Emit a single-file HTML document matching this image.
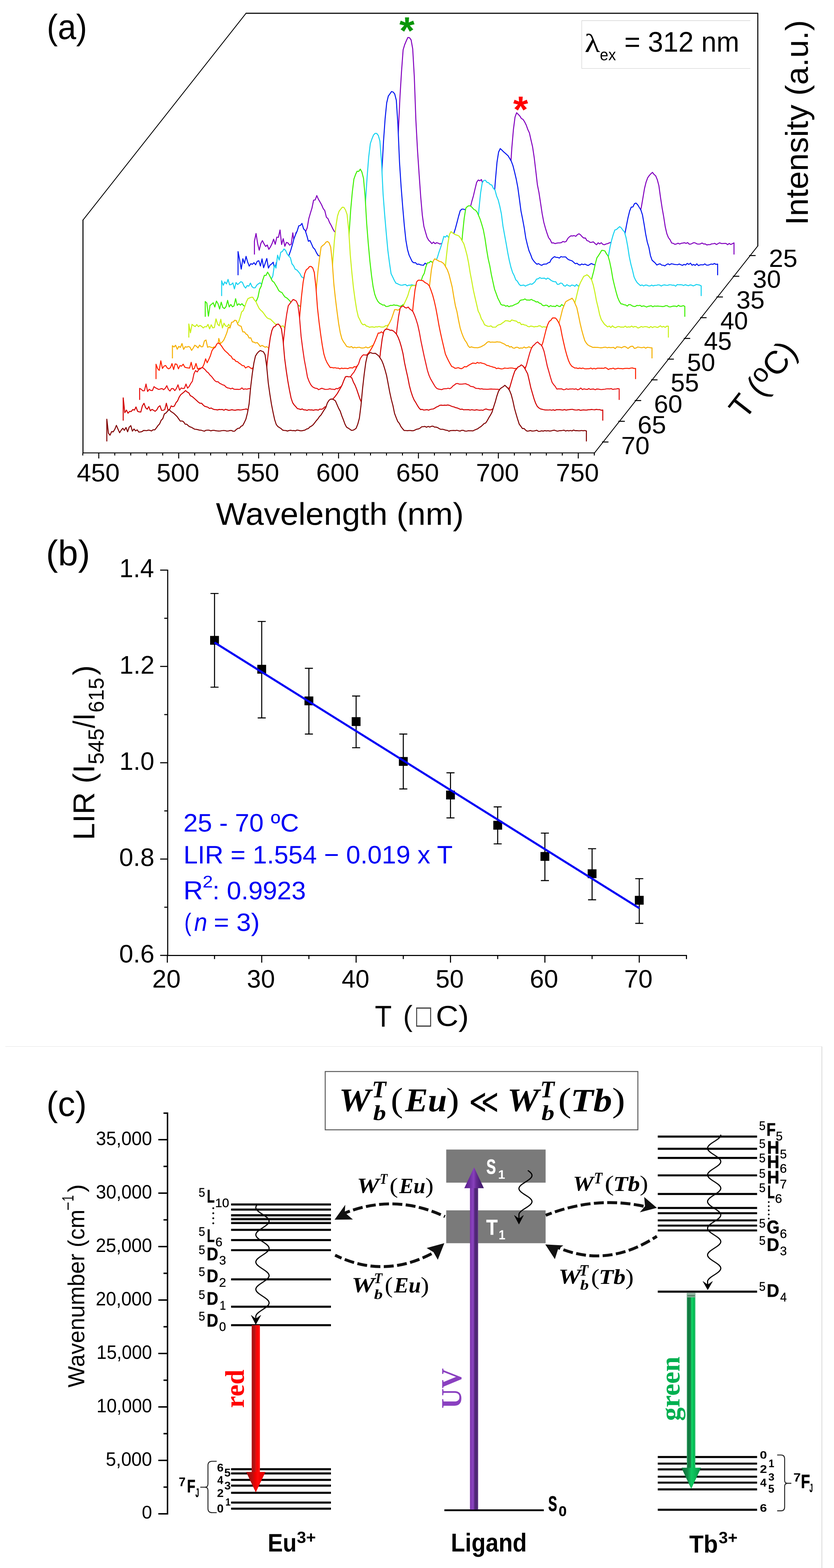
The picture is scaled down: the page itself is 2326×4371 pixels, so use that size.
<!DOCTYPE html>
<html lang="en"><head><meta charset="utf-8"><title>Figure</title>
<style>
html,body{margin:0;padding:0;background:#fff;overflow:hidden;}
body{width:2326px;height:4371px;overflow:hidden;}
svg{display:block;}
text{white-space:pre;text-rendering:geometricPrecision;}
</style></head><body>
<svg width="2326" height="4371" viewBox="0 0 2326 4371">
<rect width="2326" height="4371" fill="#fff"/>
<g id="pa" fill="none" stroke-width="2.75" stroke-linejoin="round">
<path d="M231.4 1263.5V612.6M685 37H2113.5V686.2" stroke="#000" stroke-width="2.8"/>
<path d="M231.4 613.5L686 37.3M2113.5 685.5L1658.5 1262" stroke="#000" stroke-width="2.3"/>
<path d="M230 1262.5H1659.7" stroke="#000" stroke-width="2.7"/>
<path d="M230.9 1262.3v7.5M275.5 1262.3v15.7M320.1 1262.3v7.5M364.7 1262.3v7.5M409.2 1262.3v7.5M453.8 1262.3v7.5M498.4 1262.3v15.7M543 1262.3v7.5M587.5 1262.3v7.5M632.1 1262.3v7.5M676.7 1262.3v7.5M721.3 1262.3v15.7M765.8 1262.3v7.5M810.4 1262.3v7.5M855 1262.3v7.5M899.6 1262.3v7.5M944.2 1262.3v15.7M988.7 1262.3v7.5M1033.3 1262.3v7.5M1077.9 1262.3v7.5M1122.5 1262.3v7.5M1167 1262.3v15.7M1211.6 1262.3v7.5M1256.2 1262.3v7.5M1300.8 1262.3v7.5M1345.3 1262.3v7.5M1389.9 1262.3v15.7M1434.5 1262.3v7.5M1479.1 1262.3v7.5M1523.7 1262.3v7.5M1568.2 1262.3v7.5M1612.8 1262.3v15.7M1657.4 1262.3v7.5" stroke="#000" stroke-width="2.7"/>
<path d="M1679 1232.1h18M1724.6 1174.3h18M1770.2 1116.6h18M1815.8 1058.8h18M1861.4 1001.1h18M1907 943.3h18M1952.6 885.6h18M1998.2 827.8h18M2043.8 770.1h18M2089.4 712.3h18" stroke="#000" stroke-width="2.7"/>
<polygon points="709.6,709.4 709.6,672.4 714.1,650.9 718.6,679.2 723,697.4 727.5,678.6 731.9,670.8 736.4,679.7 740.9,687.1 745.3,682.9 749.8,695.1 754.2,688.3 758.7,679.2 763.1,666.7 767.6,681 772.1,661 776.5,661.6 781,641.1 785.4,681.7 789.9,665.4 794.4,686.5 798.8,675.7 803.3,677.4 807.7,683.4 812.2,680.7 816.6,649.1 821.1,679.7 825.6,648.2 830,679.4 834.5,679.8 838.9,678.6 843.4,668 847.9,663.1 852.3,646.5 856.8,635.1 861.2,609.7 865.7,594.2 870.1,579.9 874.6,558 879.1,557.4 883.5,545.2 888,555.5 892.4,562.8 896.9,570.9 901.4,581.2 905.8,587.1 910.3,605.5 914.7,609.5 919.2,620.5 923.6,628.1 928.1,637.7 932.6,645.4 937,648.2 941.5,652.3 945.9,654.2 950.4,666.1 954.9,673.5 959.3,678.4 963.8,675.5 968.2,680.8 972.7,676.8 977.1,682.1 981.6,675.9 986.1,679.9 990.5,681.7 995,678.9 999.4,679.3 1003.9,679.8 1008.4,680.6 1012.8,676.8 1017.3,674.8 1021.7,681.3 1026.2,681.1 1030.6,678.2 1035.1,678.6 1039.6,678.4 1044,675.4 1048.5,680.1 1052.9,678 1057.4,675.1 1061.9,677.7 1066.3,680.5 1070.8,672.1 1075.2,669.9 1079.7,661.2 1084.1,653.2 1088.6,643.7 1093.1,623.8 1097.5,594.6 1102,556.7 1106.4,480.1 1110.9,368.7 1115.4,271.7 1119.8,199.7 1124.3,138.9 1128.7,124.4 1133.2,113.7 1137.6,104.4 1142.1,105.1 1146.6,111.4 1151,135.9 1155.5,214.5 1159.9,335.5 1164.4,418.8 1168.9,485.7 1173.3,548 1177.8,599.5 1182.2,631 1186.7,647.1 1191.1,661.9 1195.6,669.8 1200.1,674 1204.5,679.1 1209,674.7 1213.4,679.3 1217.9,676.5 1222.4,678 1226.8,680.2 1231.3,678.8 1235.7,680.9 1240.2,678.8 1244.6,682.2 1249.1,679.8 1253.6,680.1 1258,678.5 1262.5,675.9 1266.9,673.3 1271.4,666.6 1275.9,662.2 1280.3,653.4 1284.8,645.5 1289.2,635.3 1293.7,624.7 1298.1,611.5 1302.6,602.9 1307.1,591.5 1311.5,579.1 1316,561 1320.4,545.8 1324.9,526.5 1329.4,508.3 1333.8,501.8 1338.3,503.9 1342.7,500.5 1347.2,514.8 1351.6,534.7 1356.1,550.3 1360.6,572.6 1365,592.6 1369.5,618.7 1373.9,638.3 1378.4,656.4 1382.9,665.9 1387.3,671.5 1391.8,677 1396.2,679.2 1400.7,673.9 1405.1,668.9 1409.6,648 1414.1,619 1418.5,564.6 1423,480.7 1427.4,413.2 1431.9,361 1436.4,326.4 1440.8,314.3 1445.3,318.8 1449.7,323.2 1454.2,330.4 1458.6,332.8 1463.1,339.6 1467.6,348.6 1472,360.8 1476.5,370.5 1480.9,390.1 1485.4,409.5 1489.9,439.4 1494.3,476.4 1498.8,515.3 1503.2,537 1507.7,566.6 1512.1,595.8 1516.6,619.5 1521.1,635.8 1525.5,649.8 1530,662.5 1534.4,668.2 1538.9,677.4 1543.4,676.9 1547.8,679.1 1552.3,677.9 1556.7,677.1 1561.2,677.2 1565.6,676.4 1570.1,673 1574.6,674.7 1579,673 1583.5,664.9 1587.9,660.4 1592.4,657.4 1596.9,657.8 1601.3,656.6 1605.8,658.9 1610.2,654.2 1614.7,651.6 1619.1,654.7 1623.6,659.9 1628.1,663.6 1632.5,663.3 1637,670.7 1641.4,672 1645.9,675.8 1650.4,675.3 1654.8,674.2 1659.3,678.6 1663.7,682.3 1668.2,676.8 1672.6,679.9 1677.1,676.6 1681.6,681.4 1686,682.2 1690.5,680 1694.9,679.1 1699.4,676.9 1703.9,675.9 1708.3,677.7 1712.8,679.2 1717.2,677.1 1721.7,679.5 1726.1,680.7 1730.6,679.5 1735.1,677.6 1739.5,675.3 1744,671.7 1748.4,669.3 1752.9,660.7 1757.4,654 1761.8,649.4 1766.3,644.2 1770.7,632.5 1775.2,621.8 1779.6,614 1784.1,596.2 1788.6,577.7 1793,552.2 1797.5,525.4 1801.9,507.7 1806.4,495.5 1810.9,489.1 1815.3,484.4 1819.8,480.5 1824.2,486.3 1828.7,490.3 1833.1,500.7 1837.6,517.5 1842.1,550.2 1846.5,578.9 1851,604.3 1855.4,632.6 1859.9,651.7 1864.3,662.5 1868.8,668.3 1873.3,677.5 1877.7,678.4 1882.2,681.2 1886.6,680 1891.1,678 1895.6,680.3 1900,678.2 1904.5,677.7 1908.9,676.6 1913.4,678.5 1917.8,676.2 1922.3,680.7 1926.8,680.4 1931.2,678.1 1935.7,676.3 1940.1,677.8 1944.6,680.2 1949.1,680.5 1953.5,679.8 1958,677.5 1962.4,680.1 1966.9,679.8 1971.3,682.8 1975.8,681.8 1980.3,682 1984.7,679.8 1989.2,679.5 1993.6,678.3 1998.1,681.7 2002.6,679.1 2007,676.8 2011.5,678.8 2015.9,678.8 2020.4,678.6 2024.8,678.5 2029.3,682.1 2033.8,678.6 2038.2,681.6 2042.7,679.3 2047.1,677.1 2047.1,709.4" fill="#fff" stroke="none"/>
<polyline points="709.6,709.4 709.6,672.4 714.1,650.9 718.6,679.2 723,697.4 727.5,678.6 731.9,670.8 736.4,679.7 740.9,687.1 745.3,682.9 749.8,695.1 754.2,688.3 758.7,679.2 763.1,666.7 767.6,681 772.1,661 776.5,661.6 781,641.1 785.4,681.7 789.9,665.4 794.4,686.5 798.8,675.7 803.3,677.4 807.7,683.4 812.2,680.7 816.6,649.1 821.1,679.7 825.6,648.2 830,679.4 834.5,679.8 838.9,678.6 843.4,668 847.9,663.1 852.3,646.5 856.8,635.1 861.2,609.7 865.7,594.2 870.1,579.9 874.6,558 879.1,557.4 883.5,545.2 888,555.5 892.4,562.8 896.9,570.9 901.4,581.2 905.8,587.1 910.3,605.5 914.7,609.5 919.2,620.5 923.6,628.1 928.1,637.7 932.6,645.4 937,648.2 941.5,652.3 945.9,654.2 950.4,666.1 954.9,673.5 959.3,678.4 963.8,675.5 968.2,680.8 972.7,676.8 977.1,682.1 981.6,675.9 986.1,679.9 990.5,681.7 995,678.9 999.4,679.3 1003.9,679.8 1008.4,680.6 1012.8,676.8 1017.3,674.8 1021.7,681.3 1026.2,681.1 1030.6,678.2 1035.1,678.6 1039.6,678.4 1044,675.4 1048.5,680.1 1052.9,678 1057.4,675.1 1061.9,677.7 1066.3,680.5 1070.8,672.1 1075.2,669.9 1079.7,661.2 1084.1,653.2 1088.6,643.7 1093.1,623.8 1097.5,594.6 1102,556.7 1106.4,480.1 1110.9,368.7 1115.4,271.7 1119.8,199.7 1124.3,138.9 1128.7,124.4 1133.2,113.7 1137.6,104.4 1142.1,105.1 1146.6,111.4 1151,135.9 1155.5,214.5 1159.9,335.5 1164.4,418.8 1168.9,485.7 1173.3,548 1177.8,599.5 1182.2,631 1186.7,647.1 1191.1,661.9 1195.6,669.8 1200.1,674 1204.5,679.1 1209,674.7 1213.4,679.3 1217.9,676.5 1222.4,678 1226.8,680.2 1231.3,678.8 1235.7,680.9 1240.2,678.8 1244.6,682.2 1249.1,679.8 1253.6,680.1 1258,678.5 1262.5,675.9 1266.9,673.3 1271.4,666.6 1275.9,662.2 1280.3,653.4 1284.8,645.5 1289.2,635.3 1293.7,624.7 1298.1,611.5 1302.6,602.9 1307.1,591.5 1311.5,579.1 1316,561 1320.4,545.8 1324.9,526.5 1329.4,508.3 1333.8,501.8 1338.3,503.9 1342.7,500.5 1347.2,514.8 1351.6,534.7 1356.1,550.3 1360.6,572.6 1365,592.6 1369.5,618.7 1373.9,638.3 1378.4,656.4 1382.9,665.9 1387.3,671.5 1391.8,677 1396.2,679.2 1400.7,673.9 1405.1,668.9 1409.6,648 1414.1,619 1418.5,564.6 1423,480.7 1427.4,413.2 1431.9,361 1436.4,326.4 1440.8,314.3 1445.3,318.8 1449.7,323.2 1454.2,330.4 1458.6,332.8 1463.1,339.6 1467.6,348.6 1472,360.8 1476.5,370.5 1480.9,390.1 1485.4,409.5 1489.9,439.4 1494.3,476.4 1498.8,515.3 1503.2,537 1507.7,566.6 1512.1,595.8 1516.6,619.5 1521.1,635.8 1525.5,649.8 1530,662.5 1534.4,668.2 1538.9,677.4 1543.4,676.9 1547.8,679.1 1552.3,677.9 1556.7,677.1 1561.2,677.2 1565.6,676.4 1570.1,673 1574.6,674.7 1579,673 1583.5,664.9 1587.9,660.4 1592.4,657.4 1596.9,657.8 1601.3,656.6 1605.8,658.9 1610.2,654.2 1614.7,651.6 1619.1,654.7 1623.6,659.9 1628.1,663.6 1632.5,663.3 1637,670.7 1641.4,672 1645.9,675.8 1650.4,675.3 1654.8,674.2 1659.3,678.6 1663.7,682.3 1668.2,676.8 1672.6,679.9 1677.1,676.6 1681.6,681.4 1686,682.2 1690.5,680 1694.9,679.1 1699.4,676.9 1703.9,675.9 1708.3,677.7 1712.8,679.2 1717.2,677.1 1721.7,679.5 1726.1,680.7 1730.6,679.5 1735.1,677.6 1739.5,675.3 1744,671.7 1748.4,669.3 1752.9,660.7 1757.4,654 1761.8,649.4 1766.3,644.2 1770.7,632.5 1775.2,621.8 1779.6,614 1784.1,596.2 1788.6,577.7 1793,552.2 1797.5,525.4 1801.9,507.7 1806.4,495.5 1810.9,489.1 1815.3,484.4 1819.8,480.5 1824.2,486.3 1828.7,490.3 1833.1,500.7 1837.6,517.5 1842.1,550.2 1846.5,578.9 1851,604.3 1855.4,632.6 1859.9,651.7 1864.3,662.5 1868.8,668.3 1873.3,677.5 1877.7,678.4 1882.2,681.2 1886.6,680 1891.1,678 1895.6,680.3 1900,678.2 1904.5,677.7 1908.9,676.6 1913.4,678.5 1917.8,676.2 1922.3,680.7 1926.8,680.4 1931.2,678.1 1935.7,676.3 1940.1,677.8 1944.6,680.2 1949.1,680.5 1953.5,679.8 1958,677.5 1962.4,680.1 1966.9,679.8 1971.3,682.8 1975.8,681.8 1980.3,682 1984.7,679.8 1989.2,679.5 1993.6,678.3 1998.1,681.7 2002.6,679.1 2007,676.8 2011.5,678.8 2015.9,678.8 2020.4,678.6 2024.8,678.5 2029.3,682.1 2033.8,678.6 2038.2,681.6 2042.7,679.3 2047.1,677.1 2047.1,709.4" stroke="#8200be"/>
<polygon points="663.9,767.3 663.9,701.3 668.4,724.5 672.8,750.2 677.3,721.3 681.7,734.3 686.2,714.7 690.6,730.2 695.1,741.8 699.6,735.1 704,736.8 708.5,732.2 712.9,738.2 717.4,728.5 721.9,726.8 726.3,741.5 730.8,721.7 735.2,746.4 739.7,733.5 744.1,720.6 748.6,747.3 753.1,738.8 757.5,735.9 762,730.9 766.4,753 770.9,731.8 775.4,735.7 779.8,745.2 784.3,736.3 788.7,738.6 793.2,737.5 797.6,730.9 802.1,722.6 806.6,709.8 811,697.1 815.5,682 819.9,665.4 824.4,653.7 828.9,643.6 833.3,629.5 837.8,628.4 842.2,622.8 846.7,638 851.1,642.2 855.6,656.2 860.1,672.6 864.5,670.4 869,680.2 873.4,690.2 877.9,694.7 882.4,704 886.8,711.5 891.3,713.8 895.7,716.9 900.2,724.6 904.6,726.3 909.1,725.8 913.6,731.7 918,733.1 922.5,733.8 926.9,737 931.4,734.8 935.9,737.9 940.3,732.4 944.8,737.5 949.2,736 953.7,736.3 958.1,737.2 962.6,739.3 967.1,736.4 971.5,735.7 976,738 980.4,736.3 984.9,738.9 989.4,735 993.8,735.3 998.3,738.2 1002.7,734.8 1007.2,738.4 1011.6,735.6 1016.1,734.2 1020.6,736.4 1025,733.2 1029.5,726.2 1033.9,722.2 1038.4,715 1042.9,709.7 1047.3,691 1051.8,671.5 1056.2,634.3 1060.7,574.3 1065.1,476.4 1069.6,393.7 1074.1,330.5 1078.5,286.6 1083,267.9 1087.4,261.8 1091.9,255.2 1096.4,256.5 1100.8,261.9 1105.3,279.3 1109.7,346.1 1114.2,451.8 1118.6,519.3 1123.1,576.5 1127.6,628.4 1132,669.7 1136.5,695.5 1140.9,711 1145.4,720.5 1149.9,729.6 1154.3,732.5 1158.8,732.1 1163.2,736.9 1167.7,736.1 1172.1,738.1 1176.6,739 1181.1,739.3 1185.5,733.6 1190,736.5 1194.4,738.4 1198.9,737.4 1203.4,737.7 1207.8,736.9 1212.3,735.6 1216.7,730.7 1221.2,731.7 1225.6,727.7 1230.1,722.5 1234.6,713.4 1239,705.8 1243.5,696.2 1247.9,685.6 1252.4,681.5 1256.9,673.9 1261.3,657.1 1265.8,650.2 1270.2,636.7 1274.7,619.6 1279.1,602.5 1283.6,587.2 1288.1,582.9 1292.5,583 1297,584.5 1301.4,589 1305.9,610.4 1310.4,623.1 1314.8,640.2 1319.3,664 1323.7,683.1 1328.2,701.9 1332.6,718.8 1337.1,725.3 1341.6,729.2 1346,735.6 1350.5,737.1 1354.9,735 1359.4,725.4 1363.9,710.9 1368.3,684.8 1372.8,631.1 1377.2,560.5 1381.7,502.6 1386.1,452.3 1390.6,423.8 1395.1,414.3 1399.5,418.1 1404,422.7 1408.4,426.5 1412.9,430.6 1417.4,434.7 1421.8,442.2 1426.3,450.2 1430.7,462.1 1435.2,479.9 1439.6,498.6 1444.1,522 1448.6,554.7 1453,588.2 1457.5,610.8 1461.9,634.4 1466.4,663.8 1470.9,682.6 1475.3,698.9 1479.8,709.3 1484.2,721.3 1488.7,727.7 1493.1,732.8 1497.6,736.6 1502.1,734.8 1506.5,738 1511,739.6 1515.4,736.6 1519.9,736.2 1524.4,735.8 1528.8,732.5 1533.3,731.3 1537.7,722.7 1542.2,718.4 1546.6,715.4 1551.1,717.5 1555.6,717.6 1560,719.4 1564.5,715.2 1568.9,716.5 1573.4,716 1577.9,716.4 1582.3,721.4 1586.8,724.3 1591.2,725.8 1595.7,727.3 1600.1,731.3 1604.6,735.3 1609.1,733.7 1613.5,737.6 1618,738.9 1622.4,736 1626.9,737.8 1631.4,736.2 1635.8,738.5 1640.3,740.1 1644.7,737.3 1649.2,734.6 1653.6,736.7 1658.1,738 1662.6,737.3 1667,738.3 1671.5,736.1 1675.9,736 1680.4,737.1 1684.9,737.8 1689.3,735.1 1693.8,734 1698.2,731.9 1702.7,726.8 1707.1,723.7 1711.6,717.5 1716.1,713.6 1720.5,703 1725,695.4 1729.4,686.9 1733.9,679.1 1738.4,664.7 1742.8,652.1 1747.3,627.9 1751.7,606.1 1756.2,587.9 1760.6,577.3 1765.1,576.8 1769.6,567.6 1774,566.1 1778.5,571 1782.9,578.1 1787.4,585.5 1791.8,598.9 1796.3,624.4 1800.8,652.7 1805.2,674.6 1809.7,689.6 1814.1,712.6 1818.6,725.4 1823.1,729.4 1827.5,733.3 1832,738.8 1836.4,736.6 1840.9,735.3 1845.3,739 1849.8,739.5 1854.3,741.2 1858.7,737.5 1863.2,735.5 1867.6,738.2 1872.1,735.4 1876.6,736 1881,737.2 1885.5,737.5 1889.9,738 1894.4,735.9 1898.8,738 1903.3,739.7 1907.8,737 1912.2,738.8 1916.7,734.2 1921.1,737.2 1925.6,733.5 1930.1,739.3 1934.5,737.2 1939,739.7 1943.4,735.5 1947.9,740.4 1952.3,738.4 1956.8,738 1961.3,738.3 1965.7,735.6 1970.2,739 1974.6,739.2 1979.1,737.7 1983.6,736 1988,737 1992.5,734.5 1996.9,737 2001.4,736.2 2001.4,767.3" fill="#fff" stroke="none"/>
<polyline points="663.9,767.3 663.9,701.3 668.4,724.5 672.8,750.2 677.3,721.3 681.7,734.3 686.2,714.7 690.6,730.2 695.1,741.8 699.6,735.1 704,736.8 708.5,732.2 712.9,738.2 717.4,728.5 721.9,726.8 726.3,741.5 730.8,721.7 735.2,746.4 739.7,733.5 744.1,720.6 748.6,747.3 753.1,738.8 757.5,735.9 762,730.9 766.4,753 770.9,731.8 775.4,735.7 779.8,745.2 784.3,736.3 788.7,738.6 793.2,737.5 797.6,730.9 802.1,722.6 806.6,709.8 811,697.1 815.5,682 819.9,665.4 824.4,653.7 828.9,643.6 833.3,629.5 837.8,628.4 842.2,622.8 846.7,638 851.1,642.2 855.6,656.2 860.1,672.6 864.5,670.4 869,680.2 873.4,690.2 877.9,694.7 882.4,704 886.8,711.5 891.3,713.8 895.7,716.9 900.2,724.6 904.6,726.3 909.1,725.8 913.6,731.7 918,733.1 922.5,733.8 926.9,737 931.4,734.8 935.9,737.9 940.3,732.4 944.8,737.5 949.2,736 953.7,736.3 958.1,737.2 962.6,739.3 967.1,736.4 971.5,735.7 976,738 980.4,736.3 984.9,738.9 989.4,735 993.8,735.3 998.3,738.2 1002.7,734.8 1007.2,738.4 1011.6,735.6 1016.1,734.2 1020.6,736.4 1025,733.2 1029.5,726.2 1033.9,722.2 1038.4,715 1042.9,709.7 1047.3,691 1051.8,671.5 1056.2,634.3 1060.7,574.3 1065.1,476.4 1069.6,393.7 1074.1,330.5 1078.5,286.6 1083,267.9 1087.4,261.8 1091.9,255.2 1096.4,256.5 1100.8,261.9 1105.3,279.3 1109.7,346.1 1114.2,451.8 1118.6,519.3 1123.1,576.5 1127.6,628.4 1132,669.7 1136.5,695.5 1140.9,711 1145.4,720.5 1149.9,729.6 1154.3,732.5 1158.8,732.1 1163.2,736.9 1167.7,736.1 1172.1,738.1 1176.6,739 1181.1,739.3 1185.5,733.6 1190,736.5 1194.4,738.4 1198.9,737.4 1203.4,737.7 1207.8,736.9 1212.3,735.6 1216.7,730.7 1221.2,731.7 1225.6,727.7 1230.1,722.5 1234.6,713.4 1239,705.8 1243.5,696.2 1247.9,685.6 1252.4,681.5 1256.9,673.9 1261.3,657.1 1265.8,650.2 1270.2,636.7 1274.7,619.6 1279.1,602.5 1283.6,587.2 1288.1,582.9 1292.5,583 1297,584.5 1301.4,589 1305.9,610.4 1310.4,623.1 1314.8,640.2 1319.3,664 1323.7,683.1 1328.2,701.9 1332.6,718.8 1337.1,725.3 1341.6,729.2 1346,735.6 1350.5,737.1 1354.9,735 1359.4,725.4 1363.9,710.9 1368.3,684.8 1372.8,631.1 1377.2,560.5 1381.7,502.6 1386.1,452.3 1390.6,423.8 1395.1,414.3 1399.5,418.1 1404,422.7 1408.4,426.5 1412.9,430.6 1417.4,434.7 1421.8,442.2 1426.3,450.2 1430.7,462.1 1435.2,479.9 1439.6,498.6 1444.1,522 1448.6,554.7 1453,588.2 1457.5,610.8 1461.9,634.4 1466.4,663.8 1470.9,682.6 1475.3,698.9 1479.8,709.3 1484.2,721.3 1488.7,727.7 1493.1,732.8 1497.6,736.6 1502.1,734.8 1506.5,738 1511,739.6 1515.4,736.6 1519.9,736.2 1524.4,735.8 1528.8,732.5 1533.3,731.3 1537.7,722.7 1542.2,718.4 1546.6,715.4 1551.1,717.5 1555.6,717.6 1560,719.4 1564.5,715.2 1568.9,716.5 1573.4,716 1577.9,716.4 1582.3,721.4 1586.8,724.3 1591.2,725.8 1595.7,727.3 1600.1,731.3 1604.6,735.3 1609.1,733.7 1613.5,737.6 1618,738.9 1622.4,736 1626.9,737.8 1631.4,736.2 1635.8,738.5 1640.3,740.1 1644.7,737.3 1649.2,734.6 1653.6,736.7 1658.1,738 1662.6,737.3 1667,738.3 1671.5,736.1 1675.9,736 1680.4,737.1 1684.9,737.8 1689.3,735.1 1693.8,734 1698.2,731.9 1702.7,726.8 1707.1,723.7 1711.6,717.5 1716.1,713.6 1720.5,703 1725,695.4 1729.4,686.9 1733.9,679.1 1738.4,664.7 1742.8,652.1 1747.3,627.9 1751.7,606.1 1756.2,587.9 1760.6,577.3 1765.1,576.8 1769.6,567.6 1774,566.1 1778.5,571 1782.9,578.1 1787.4,585.5 1791.8,598.9 1796.3,624.4 1800.8,652.7 1805.2,674.6 1809.7,689.6 1814.1,712.6 1818.6,725.4 1823.1,729.4 1827.5,733.3 1832,738.8 1836.4,736.6 1840.9,735.3 1845.3,739 1849.8,739.5 1854.3,741.2 1858.7,737.5 1863.2,735.5 1867.6,738.2 1872.1,735.4 1876.6,736 1881,737.2 1885.5,737.5 1889.9,738 1894.4,735.9 1898.8,738 1903.3,739.7 1907.8,737 1912.2,738.8 1916.7,734.2 1921.1,737.2 1925.6,733.5 1930.1,739.3 1934.5,737.2 1939,739.7 1943.4,735.5 1947.9,740.4 1952.3,738.4 1956.8,738 1961.3,738.3 1965.7,735.6 1970.2,739 1974.6,739.2 1979.1,737.7 1983.6,736 1988,737 1992.5,734.5 1996.9,737 2001.4,736.2 2001.4,767.3" stroke="#0014f0"/>
<polygon points="618.1,825.2 618.1,782.6 622.6,795.3 627.1,785.8 631.5,791.5 636,778.9 640.4,794 644.9,793.4 649.4,788.6 653.8,805.3 658.3,787.6 662.7,793.1 667.2,789.5 671.6,785.2 676.1,787.2 680.6,797.8 685,803 689.5,796.1 693.9,797.7 698.4,789.1 702.9,799.2 707.3,802.5 711.8,802.1 716.2,794.7 720.7,791.1 725.1,788.4 729.6,791.8 734.1,800.4 738.5,773 743,798.8 747.4,769.3 751.9,786.1 756.4,778.1 760.8,769.6 765.3,738.8 769.7,747.3 774.2,711.4 778.6,724.9 783.1,703.2 787.6,701 792,693.9 796.5,698 800.9,707.9 805.4,713.8 809.9,718.4 814.3,735.5 818.8,740.9 823.2,750.4 827.7,752.5 832.1,757.3 836.6,762.8 841.1,771.8 845.5,774.3 850,776.5 854.4,783.1 858.9,783.7 863.4,789.6 867.8,790.9 872.3,791.7 876.7,794.7 881.2,794.6 885.6,790.1 890.1,792.6 894.6,797.5 899,795.4 903.5,801.4 907.9,795 912.4,795.3 916.9,794.4 921.3,797 925.8,794.9 930.2,793.1 934.7,794.8 939.1,795.3 943.6,793.8 948.1,794.6 952.5,796.1 957,796.9 961.4,794.5 965.9,797.7 970.4,793.4 974.8,797.4 979.3,792.8 983.7,787.5 988.2,781.4 992.6,775.8 997.1,769.6 1001.6,754.8 1006,733.9 1010.5,704.7 1014.9,651.4 1019.4,561.5 1023.9,493 1028.3,437.7 1032.8,400.4 1037.2,387.6 1041.7,376.5 1046.1,371.8 1050.6,371.9 1055.1,377.7 1059.5,393 1064,450.8 1068.4,540.8 1072.9,599.6 1077.4,651.5 1081.8,698.8 1086.3,733.4 1090.7,762.9 1095.2,772.2 1099.6,781.4 1104.1,789.2 1108.6,790.9 1113,793.2 1117.5,794.8 1121.9,795 1126.4,793.8 1130.9,793 1135.3,796.9 1139.8,794.9 1144.2,795.1 1148.7,793.9 1153.1,795 1157.6,795.4 1162.1,793.2 1166.5,793.3 1171,792.6 1175.4,788 1179.9,785.5 1184.4,783.4 1188.8,775.9 1193.3,767.5 1197.7,760 1202.2,752.6 1206.6,746.8 1211.1,734.5 1215.6,726.8 1220,717.3 1224.5,702.4 1228.9,689.9 1233.4,675.3 1237.9,658.9 1242.3,661.1 1246.8,656.3 1251.2,661.8 1255.7,666.6 1260.1,682.6 1264.6,699.9 1269.1,710.4 1273.5,726.9 1278,746.5 1282.4,765.8 1286.9,778.6 1291.4,783.4 1295.8,790.1 1300.3,796.3 1304.7,791.9 1309.2,793.6 1313.6,783.9 1318.1,770.9 1322.6,744.8 1327,697.5 1331.5,635.8 1335.9,581.3 1340.4,537.5 1344.9,509.9 1349.3,503 1353.8,502.5 1358.2,508.3 1362.7,509.4 1367.1,514.2 1371.6,515.9 1376.1,525.2 1380.5,529.5 1385,546.4 1389.4,557.2 1393.9,574.9 1398.4,596.5 1402.8,630.5 1407.3,655.2 1411.7,678.9 1416.2,704.9 1420.6,726.9 1425.1,745.5 1429.6,759.7 1434,768.2 1438.5,780 1442.9,784 1447.4,791.8 1451.9,796.2 1456.3,795.3 1460.8,794.7 1465.2,797.6 1469.7,795.1 1474.1,793.7 1478.6,791.4 1483.1,792.5 1487.5,789.6 1492,785.4 1496.4,778 1500.9,777.1 1505.4,773.8 1509.8,776.1 1514.3,775.7 1518.7,775.4 1523.2,778.4 1527.6,775.1 1532.1,777.6 1536.6,781.4 1541,783.9 1545.5,785.1 1549.9,785.3 1554.4,792.6 1558.9,792.4 1563.3,789 1567.8,790 1572.2,796.1 1576.7,797.7 1581.1,793.6 1585.6,796.4 1590.1,797.8 1594.5,794.7 1599,795.4 1603.4,798 1607.9,793 1612.4,797.4 1616.8,794.4 1621.3,796.3 1625.7,795.6 1630.2,797.2 1634.6,796.1 1639.1,793 1643.6,794.7 1648,792 1652.5,787.6 1656.9,783.2 1661.4,780.8 1665.9,774.8 1670.3,770 1674.8,765.9 1679.2,756.9 1683.7,749.1 1688.1,740.1 1692.6,729 1697.1,712.9 1701.5,687.7 1706,668.9 1710.4,653.5 1714.9,641 1719.4,639.7 1723.8,635.4 1728.3,631.7 1732.7,635.3 1737.2,641.7 1741.6,646.6 1746.1,662.6 1750.6,686.5 1755,715.2 1759.5,736.4 1763.9,752.8 1768.4,772 1772.8,781.3 1777.3,788.2 1781.8,792.3 1786.2,796.1 1790.7,794.3 1795.1,797.1 1799.6,794.7 1804.1,794.8 1808.5,797 1813,797.1 1817.4,794.7 1821.9,796.9 1826.3,795.4 1830.8,795.5 1835.3,794 1839.7,794.5 1844.2,797.3 1848.6,795 1853.1,794.1 1857.6,795.1 1862,795.5 1866.5,793.9 1870.9,794 1875.4,795.1 1879.8,794.8 1884.3,797.7 1888.8,793.3 1893.2,793.8 1897.7,793.7 1902.1,794.1 1906.6,796 1911.1,793.6 1915.5,795.1 1920,796.4 1924.4,794.2 1928.9,794.8 1933.3,797 1937.8,795.3 1942.3,793 1946.7,793.9 1951.2,794.7 1955.6,797 1955.6,825.2" fill="#fff" stroke="none"/>
<polyline points="618.1,825.2 618.1,782.6 622.6,795.3 627.1,785.8 631.5,791.5 636,778.9 640.4,794 644.9,793.4 649.4,788.6 653.8,805.3 658.3,787.6 662.7,793.1 667.2,789.5 671.6,785.2 676.1,787.2 680.6,797.8 685,803 689.5,796.1 693.9,797.7 698.4,789.1 702.9,799.2 707.3,802.5 711.8,802.1 716.2,794.7 720.7,791.1 725.1,788.4 729.6,791.8 734.1,800.4 738.5,773 743,798.8 747.4,769.3 751.9,786.1 756.4,778.1 760.8,769.6 765.3,738.8 769.7,747.3 774.2,711.4 778.6,724.9 783.1,703.2 787.6,701 792,693.9 796.5,698 800.9,707.9 805.4,713.8 809.9,718.4 814.3,735.5 818.8,740.9 823.2,750.4 827.7,752.5 832.1,757.3 836.6,762.8 841.1,771.8 845.5,774.3 850,776.5 854.4,783.1 858.9,783.7 863.4,789.6 867.8,790.9 872.3,791.7 876.7,794.7 881.2,794.6 885.6,790.1 890.1,792.6 894.6,797.5 899,795.4 903.5,801.4 907.9,795 912.4,795.3 916.9,794.4 921.3,797 925.8,794.9 930.2,793.1 934.7,794.8 939.1,795.3 943.6,793.8 948.1,794.6 952.5,796.1 957,796.9 961.4,794.5 965.9,797.7 970.4,793.4 974.8,797.4 979.3,792.8 983.7,787.5 988.2,781.4 992.6,775.8 997.1,769.6 1001.6,754.8 1006,733.9 1010.5,704.7 1014.9,651.4 1019.4,561.5 1023.9,493 1028.3,437.7 1032.8,400.4 1037.2,387.6 1041.7,376.5 1046.1,371.8 1050.6,371.9 1055.1,377.7 1059.5,393 1064,450.8 1068.4,540.8 1072.9,599.6 1077.4,651.5 1081.8,698.8 1086.3,733.4 1090.7,762.9 1095.2,772.2 1099.6,781.4 1104.1,789.2 1108.6,790.9 1113,793.2 1117.5,794.8 1121.9,795 1126.4,793.8 1130.9,793 1135.3,796.9 1139.8,794.9 1144.2,795.1 1148.7,793.9 1153.1,795 1157.6,795.4 1162.1,793.2 1166.5,793.3 1171,792.6 1175.4,788 1179.9,785.5 1184.4,783.4 1188.8,775.9 1193.3,767.5 1197.7,760 1202.2,752.6 1206.6,746.8 1211.1,734.5 1215.6,726.8 1220,717.3 1224.5,702.4 1228.9,689.9 1233.4,675.3 1237.9,658.9 1242.3,661.1 1246.8,656.3 1251.2,661.8 1255.7,666.6 1260.1,682.6 1264.6,699.9 1269.1,710.4 1273.5,726.9 1278,746.5 1282.4,765.8 1286.9,778.6 1291.4,783.4 1295.8,790.1 1300.3,796.3 1304.7,791.9 1309.2,793.6 1313.6,783.9 1318.1,770.9 1322.6,744.8 1327,697.5 1331.5,635.8 1335.9,581.3 1340.4,537.5 1344.9,509.9 1349.3,503 1353.8,502.5 1358.2,508.3 1362.7,509.4 1367.1,514.2 1371.6,515.9 1376.1,525.2 1380.5,529.5 1385,546.4 1389.4,557.2 1393.9,574.9 1398.4,596.5 1402.8,630.5 1407.3,655.2 1411.7,678.9 1416.2,704.9 1420.6,726.9 1425.1,745.5 1429.6,759.7 1434,768.2 1438.5,780 1442.9,784 1447.4,791.8 1451.9,796.2 1456.3,795.3 1460.8,794.7 1465.2,797.6 1469.7,795.1 1474.1,793.7 1478.6,791.4 1483.1,792.5 1487.5,789.6 1492,785.4 1496.4,778 1500.9,777.1 1505.4,773.8 1509.8,776.1 1514.3,775.7 1518.7,775.4 1523.2,778.4 1527.6,775.1 1532.1,777.6 1536.6,781.4 1541,783.9 1545.5,785.1 1549.9,785.3 1554.4,792.6 1558.9,792.4 1563.3,789 1567.8,790 1572.2,796.1 1576.7,797.7 1581.1,793.6 1585.6,796.4 1590.1,797.8 1594.5,794.7 1599,795.4 1603.4,798 1607.9,793 1612.4,797.4 1616.8,794.4 1621.3,796.3 1625.7,795.6 1630.2,797.2 1634.6,796.1 1639.1,793 1643.6,794.7 1648,792 1652.5,787.6 1656.9,783.2 1661.4,780.8 1665.9,774.8 1670.3,770 1674.8,765.9 1679.2,756.9 1683.7,749.1 1688.1,740.1 1692.6,729 1697.1,712.9 1701.5,687.7 1706,668.9 1710.4,653.5 1714.9,641 1719.4,639.7 1723.8,635.4 1728.3,631.7 1732.7,635.3 1737.2,641.7 1741.6,646.6 1746.1,662.6 1750.6,686.5 1755,715.2 1759.5,736.4 1763.9,752.8 1768.4,772 1772.8,781.3 1777.3,788.2 1781.8,792.3 1786.2,796.1 1790.7,794.3 1795.1,797.1 1799.6,794.7 1804.1,794.8 1808.5,797 1813,797.1 1817.4,794.7 1821.9,796.9 1826.3,795.4 1830.8,795.5 1835.3,794 1839.7,794.5 1844.2,797.3 1848.6,795 1853.1,794.1 1857.6,795.1 1862,795.5 1866.5,793.9 1870.9,794 1875.4,795.1 1879.8,794.8 1884.3,797.7 1888.8,793.3 1893.2,793.8 1897.7,793.7 1902.1,794.1 1906.6,796 1911.1,793.6 1915.5,795.1 1920,796.4 1924.4,794.2 1928.9,794.8 1933.3,797 1937.8,795.3 1942.3,793 1946.7,793.9 1951.2,794.7 1955.6,797 1955.6,825.2" stroke="#14d2f0"/>
<polygon points="572.4,883.1 572.4,840.5 576.9,845 581.3,881.4 585.8,851.3 590.2,848 594.7,843.9 599.1,855.9 603.6,839.3 608.1,846.9 612.5,861.4 617,842.4 621.4,857.1 625.9,860 630.4,854.9 634.8,837.4 639.3,855.6 643.7,848.7 648.2,855.2 652.6,852.7 657.1,832.7 661.6,851.3 666,846.7 670.5,850.6 674.9,846.6 679.4,852 683.9,853.6 688.3,854.2 692.8,848.7 697.2,853.3 701.7,847.5 706.1,849.7 710.6,838.9 715.1,838.7 719.5,828.2 724,806.5 728.4,798 732.9,780.2 737.4,767.5 741.8,767.9 746.3,758.6 750.7,765.8 755.2,774.8 759.6,783.6 764.1,786.6 768.6,794.1 773,801.3 777.5,810.2 781.9,813.7 786.4,815.6 790.9,822.9 795.3,828.3 799.8,830.5 804.2,834.6 808.7,839.1 813.1,845.4 817.6,845.5 822.1,848.3 826.5,848.5 831,850.7 835.4,852.9 839.9,854.8 844.4,851.3 848.8,851.7 853.3,852.8 857.7,854.2 862.2,853.2 866.6,850.8 871.1,854.6 875.6,854.2 880,854.1 884.5,853.5 888.9,851.7 893.4,853.8 897.9,854.1 902.3,854 906.8,854.1 911.2,856 915.7,855 920.1,853.8 924.6,850.8 929.1,855.2 933.5,848.5 938,845.7 942.4,839.9 946.9,836 951.4,830.9 955.8,818 960.3,800.4 964.7,769.7 969.2,723.1 973.6,651 978.1,584.6 982.6,535.2 987,499.3 991.5,486.7 995.9,477.3 1000.4,477.9 1004.9,471.5 1009.3,479.7 1013.8,497 1018.2,546.5 1022.7,623.5 1027.1,678.9 1031.6,727.7 1036.1,767.5 1040.5,798.9 1045,819.7 1049.4,831.7 1053.9,840.1 1058.4,845.2 1062.8,847.4 1067.3,850.4 1071.7,850 1076.2,854.2 1080.6,854.3 1085.1,853 1089.6,851.1 1094,851.5 1098.5,849.9 1102.9,851.1 1107.4,850.9 1111.9,852.8 1116.3,854 1120.8,851.7 1125.2,848.5 1129.7,852.1 1134.1,846.3 1138.6,839.6 1143.1,835.5 1147.5,832.2 1152,820 1156.4,814.5 1160.9,806.7 1165.4,796.8 1169.8,790.7 1174.3,783.7 1178.7,770.1 1183.2,762.1 1187.6,743.9 1192.1,732.6 1196.6,732.7 1201,728 1205.5,731 1209.9,736.5 1214.4,751.2 1218.9,763 1223.3,775.7 1227.8,789.3 1232.2,810.3 1236.7,826.1 1241.1,838.2 1245.6,844.2 1250.1,849.2 1254.5,851.3 1259,852.4 1263.4,851.6 1267.9,841.7 1272.4,827.9 1276.8,808.6 1281.3,765 1285.7,703.4 1290.2,650.6 1294.6,608.6 1299.1,580.4 1303.6,575.5 1308,573.5 1312.5,574.5 1316.9,578.3 1321.4,583.6 1325.9,585.9 1330.3,590.8 1334.8,600.7 1339.2,611.3 1343.7,625.6 1348.1,640.9 1352.6,664.7 1357.1,695.2 1361.5,721.2 1366,740.8 1370.4,765.6 1374.9,786.3 1379.4,806.6 1383.8,818.2 1388.3,830.8 1392.7,839.3 1397.2,848.7 1401.6,850.7 1406.1,850.7 1410.6,853.6 1415,852 1419.5,855.1 1423.9,852.9 1428.4,852.9 1432.9,850.4 1437.3,848.2 1441.8,846.7 1446.2,844 1450.7,837.4 1455.1,836.2 1459.6,835.7 1464.1,833.3 1468.5,836.4 1473,836.3 1477.4,836.7 1481.9,834.6 1486.4,837.2 1490.8,838.7 1495.3,841.9 1499.7,841.1 1504.2,845 1508.6,846.2 1513.1,851.1 1517.6,852.3 1522,850.6 1526.5,851.4 1530.9,855.4 1535.4,851.8 1539.9,854.1 1544.3,853.7 1548.8,854.6 1553.2,850.8 1557.7,853.7 1562.1,854.7 1566.6,848.9 1571.1,852.5 1575.5,852 1580,853.4 1584.4,850.8 1588.9,853.9 1593.4,854.6 1597.8,852.7 1602.3,850.8 1606.7,845.9 1611.2,841.4 1615.6,837.6 1620.1,832.4 1624.6,827.3 1629,826.1 1633.5,814.6 1637.9,811 1642.4,799.1 1646.9,789.4 1651.3,773.1 1655.8,756.1 1660.2,735.9 1664.7,718.8 1669.1,712.6 1673.6,705.6 1678.1,697.8 1682.5,698.2 1687,699.5 1691.4,707.5 1695.9,713.6 1700.3,729.2 1704.8,750.9 1709.3,777.4 1713.7,796 1718.2,813.7 1722.6,829 1727.1,839.5 1731.6,846.8 1736,847.6 1740.5,849.6 1744.9,850.1 1749.4,853.3 1753.8,849 1758.3,849.3 1762.8,852.4 1767.2,854.2 1771.7,854.3 1776.1,851.4 1780.6,852 1785.1,851 1789.5,854.4 1794,852.7 1798.4,853.6 1802.9,855.9 1807.3,854.1 1811.8,853.2 1816.3,852.3 1820.7,855.2 1825.2,853 1829.6,853.7 1834.1,853.2 1838.6,853.7 1843,853.9 1847.5,854.7 1851.9,854.2 1856.4,852.2 1860.8,852.1 1865.3,855.1 1869.8,855.5 1874.2,854.1 1878.7,853.2 1883.1,853.3 1887.6,854.9 1892.1,851 1896.5,853.8 1901,853.7 1905.4,852 1909.9,854.1 1909.9,883.1" fill="#fff" stroke="none"/>
<polyline points="572.4,883.1 572.4,840.5 576.9,845 581.3,881.4 585.8,851.3 590.2,848 594.7,843.9 599.1,855.9 603.6,839.3 608.1,846.9 612.5,861.4 617,842.4 621.4,857.1 625.9,860 630.4,854.9 634.8,837.4 639.3,855.6 643.7,848.7 648.2,855.2 652.6,852.7 657.1,832.7 661.6,851.3 666,846.7 670.5,850.6 674.9,846.6 679.4,852 683.9,853.6 688.3,854.2 692.8,848.7 697.2,853.3 701.7,847.5 706.1,849.7 710.6,838.9 715.1,838.7 719.5,828.2 724,806.5 728.4,798 732.9,780.2 737.4,767.5 741.8,767.9 746.3,758.6 750.7,765.8 755.2,774.8 759.6,783.6 764.1,786.6 768.6,794.1 773,801.3 777.5,810.2 781.9,813.7 786.4,815.6 790.9,822.9 795.3,828.3 799.8,830.5 804.2,834.6 808.7,839.1 813.1,845.4 817.6,845.5 822.1,848.3 826.5,848.5 831,850.7 835.4,852.9 839.9,854.8 844.4,851.3 848.8,851.7 853.3,852.8 857.7,854.2 862.2,853.2 866.6,850.8 871.1,854.6 875.6,854.2 880,854.1 884.5,853.5 888.9,851.7 893.4,853.8 897.9,854.1 902.3,854 906.8,854.1 911.2,856 915.7,855 920.1,853.8 924.6,850.8 929.1,855.2 933.5,848.5 938,845.7 942.4,839.9 946.9,836 951.4,830.9 955.8,818 960.3,800.4 964.7,769.7 969.2,723.1 973.6,651 978.1,584.6 982.6,535.2 987,499.3 991.5,486.7 995.9,477.3 1000.4,477.9 1004.9,471.5 1009.3,479.7 1013.8,497 1018.2,546.5 1022.7,623.5 1027.1,678.9 1031.6,727.7 1036.1,767.5 1040.5,798.9 1045,819.7 1049.4,831.7 1053.9,840.1 1058.4,845.2 1062.8,847.4 1067.3,850.4 1071.7,850 1076.2,854.2 1080.6,854.3 1085.1,853 1089.6,851.1 1094,851.5 1098.5,849.9 1102.9,851.1 1107.4,850.9 1111.9,852.8 1116.3,854 1120.8,851.7 1125.2,848.5 1129.7,852.1 1134.1,846.3 1138.6,839.6 1143.1,835.5 1147.5,832.2 1152,820 1156.4,814.5 1160.9,806.7 1165.4,796.8 1169.8,790.7 1174.3,783.7 1178.7,770.1 1183.2,762.1 1187.6,743.9 1192.1,732.6 1196.6,732.7 1201,728 1205.5,731 1209.9,736.5 1214.4,751.2 1218.9,763 1223.3,775.7 1227.8,789.3 1232.2,810.3 1236.7,826.1 1241.1,838.2 1245.6,844.2 1250.1,849.2 1254.5,851.3 1259,852.4 1263.4,851.6 1267.9,841.7 1272.4,827.9 1276.8,808.6 1281.3,765 1285.7,703.4 1290.2,650.6 1294.6,608.6 1299.1,580.4 1303.6,575.5 1308,573.5 1312.5,574.5 1316.9,578.3 1321.4,583.6 1325.9,585.9 1330.3,590.8 1334.8,600.7 1339.2,611.3 1343.7,625.6 1348.1,640.9 1352.6,664.7 1357.1,695.2 1361.5,721.2 1366,740.8 1370.4,765.6 1374.9,786.3 1379.4,806.6 1383.8,818.2 1388.3,830.8 1392.7,839.3 1397.2,848.7 1401.6,850.7 1406.1,850.7 1410.6,853.6 1415,852 1419.5,855.1 1423.9,852.9 1428.4,852.9 1432.9,850.4 1437.3,848.2 1441.8,846.7 1446.2,844 1450.7,837.4 1455.1,836.2 1459.6,835.7 1464.1,833.3 1468.5,836.4 1473,836.3 1477.4,836.7 1481.9,834.6 1486.4,837.2 1490.8,838.7 1495.3,841.9 1499.7,841.1 1504.2,845 1508.6,846.2 1513.1,851.1 1517.6,852.3 1522,850.6 1526.5,851.4 1530.9,855.4 1535.4,851.8 1539.9,854.1 1544.3,853.7 1548.8,854.6 1553.2,850.8 1557.7,853.7 1562.1,854.7 1566.6,848.9 1571.1,852.5 1575.5,852 1580,853.4 1584.4,850.8 1588.9,853.9 1593.4,854.6 1597.8,852.7 1602.3,850.8 1606.7,845.9 1611.2,841.4 1615.6,837.6 1620.1,832.4 1624.6,827.3 1629,826.1 1633.5,814.6 1637.9,811 1642.4,799.1 1646.9,789.4 1651.3,773.1 1655.8,756.1 1660.2,735.9 1664.7,718.8 1669.1,712.6 1673.6,705.6 1678.1,697.8 1682.5,698.2 1687,699.5 1691.4,707.5 1695.9,713.6 1700.3,729.2 1704.8,750.9 1709.3,777.4 1713.7,796 1718.2,813.7 1722.6,829 1727.1,839.5 1731.6,846.8 1736,847.6 1740.5,849.6 1744.9,850.1 1749.4,853.3 1753.8,849 1758.3,849.3 1762.8,852.4 1767.2,854.2 1771.7,854.3 1776.1,851.4 1780.6,852 1785.1,851 1789.5,854.4 1794,852.7 1798.4,853.6 1802.9,855.9 1807.3,854.1 1811.8,853.2 1816.3,852.3 1820.7,855.2 1825.2,853 1829.6,853.7 1834.1,853.2 1838.6,853.7 1843,853.9 1847.5,854.7 1851.9,854.2 1856.4,852.2 1860.8,852.1 1865.3,855.1 1869.8,855.5 1874.2,854.1 1878.7,853.2 1883.1,853.3 1887.6,854.9 1892.1,851 1896.5,853.8 1901,853.7 1905.4,852 1909.9,854.1 1909.9,883.1" stroke="#3cf000"/>
<polygon points="526.6,941 526.6,903 531.1,927.7 535.6,904.2 540,907.8 544.5,910.5 548.9,904.7 553.4,910.7 557.9,907.2 562.3,909.8 566.8,914.3 571.2,910.5 575.7,911.1 580.1,904.3 584.6,916.8 589.1,905.5 593.5,914 598,912.8 602.4,889 606.9,903.5 611.4,908.3 615.8,890 620.3,914.3 624.7,901 629.2,908.7 633.6,910.2 638.1,904 642.6,913.1 647,907.3 651.5,912.6 655.9,912.4 660.4,903 664.9,899 669.3,886.4 673.8,869.8 678.2,865.9 682.7,854.6 687.1,841.3 691.6,832.5 696.1,830.4 700.5,828.7 705,828.7 709.4,836.2 713.9,841.2 718.4,851.2 722.8,859.9 727.3,865 731.7,868.6 736.2,874.5 740.6,880.9 745.1,886.1 749.6,888.5 754,889.6 758.5,894 762.9,898.2 767.4,903.1 771.9,904.3 776.3,906.1 780.8,909.6 785.2,909.7 789.7,908.2 794.1,914.4 798.6,909.8 803.1,910.2 807.5,912.1 812,909.2 816.4,911.5 820.9,911.9 825.4,911.4 829.8,912.5 834.3,913.9 838.7,909.5 843.2,911.8 847.6,910.1 852.1,912.9 856.6,911.1 861,909 865.5,911 869.9,910.5 874.4,912.7 878.9,909.5 883.3,911.6 887.8,908.9 892.2,902.3 896.7,904.7 901.1,897 905.6,888.9 910.1,879.4 914.5,863.7 919,840.2 923.4,799 927.9,731.8 932.4,673 936.8,631 941.3,602.2 945.7,588.9 950.2,583.1 954.6,577.7 959.1,578.1 963.6,585.4 968,597.9 972.5,640.5 976.9,710.5 981.4,760.3 985.9,803.3 990.3,835.6 994.8,863.7 999.2,882.8 1003.7,891.6 1008.1,901.1 1012.6,905.4 1017.1,904 1021.5,908.8 1026,909.9 1030.4,912.3 1034.9,911.4 1039.4,911.1 1043.8,912.5 1048.3,910.8 1052.7,911.4 1057.2,910 1061.6,911.4 1066.1,911.9 1070.6,911.4 1075,908.2 1079.5,907.6 1083.9,904.9 1088.4,902.6 1092.9,897.5 1097.3,895.4 1101.8,888.3 1106.2,881.4 1110.7,874.8 1115.1,866.9 1119.6,861.8 1124.1,853.9 1128.5,844.3 1133,834.6 1137.4,824.1 1141.9,808.9 1146.4,797.9 1150.8,796.2 1155.3,795.8 1159.7,797.6 1164.2,801.5 1168.6,813.5 1173.1,826.5 1177.6,840 1182,851.3 1186.5,871.4 1190.9,885.6 1195.4,897.4 1199.9,900.6 1204.3,908.1 1208.8,910.6 1213.2,910.2 1217.7,907.7 1222.1,899.6 1226.6,886 1231.1,869.7 1235.5,825.3 1240,767.2 1244.4,720.2 1248.9,680.6 1253.4,654 1257.8,645.6 1262.3,649.3 1266.7,652.2 1271.2,654.7 1275.6,655.9 1280.1,658.1 1284.6,663.9 1289,671.6 1293.5,679.2 1297.9,694.2 1302.4,710.8 1306.9,733.2 1311.3,760.7 1315.8,783.9 1320.2,808.8 1324.7,828.9 1329.1,847.6 1333.6,867.1 1338.1,875.7 1342.5,888.7 1347,895.6 1351.4,905.2 1355.9,907.5 1360.4,909.5 1364.8,909.8 1369.3,908.4 1373.7,912.1 1378.2,912 1382.6,911.9 1387.1,907.4 1391.6,905.1 1396,904.4 1400.5,900.7 1404.9,898.1 1409.4,894 1413.9,894.1 1418.3,894.9 1422.8,896.5 1427.2,891.8 1431.7,893.3 1436.1,894.4 1440.6,895.4 1445.1,899.9 1449.5,898.9 1454,904.9 1458.4,903.8 1462.9,906 1467.4,906.5 1471.8,910 1476.3,911 1480.7,908.8 1485.2,909.8 1489.6,911.4 1494.1,910.1 1498.6,910.5 1503,908.1 1507.5,908.7 1511.9,912.3 1516.4,910.7 1520.9,911.8 1525.3,911.4 1529.8,910.5 1534.2,912.5 1538.7,912.8 1543.1,912.8 1547.6,911.3 1552.1,909.3 1556.5,908.1 1561,905.9 1565.4,899 1569.9,897.1 1574.4,891.4 1578.8,889.6 1583.3,883.2 1587.7,879 1592.2,869.3 1596.6,862 1601.1,852.3 1605.6,835.4 1610,817 1614.5,798.6 1618.9,787.6 1623.4,779.1 1627.9,770.6 1632.3,768.6 1636.8,766 1641.2,769 1645.7,774.4 1650.1,780.4 1654.6,794.5 1659.1,814.8 1663.5,838.7 1668,856.8 1672.4,877.1 1676.9,890.7 1681.3,897.4 1685.8,903.9 1690.3,907.6 1694.7,911.2 1699.2,908.9 1703.6,913.1 1708.1,908.3 1712.6,912.1 1717,913.5 1721.5,910.9 1725.9,910 1730.4,911.8 1734.8,911.6 1739.3,912.1 1743.8,909.1 1748.2,912.3 1752.7,911.1 1757.1,911.8 1761.6,908.8 1766.1,912.1 1770.5,910.1 1775,911 1779.4,914.5 1783.9,912.8 1788.3,910.1 1792.8,912 1797.3,910.7 1801.7,910.5 1806.2,911.6 1810.6,913.6 1815.1,910 1819.6,913.2 1824,910.9 1828.5,911 1832.9,912.9 1837.4,911.1 1841.8,908.2 1846.3,911.8 1850.8,909.8 1855.2,912.6 1859.7,909.2 1864.1,909.4 1864.1,941" fill="#fff" stroke="none"/>
<polyline points="526.6,941 526.6,903 531.1,927.7 535.6,904.2 540,907.8 544.5,910.5 548.9,904.7 553.4,910.7 557.9,907.2 562.3,909.8 566.8,914.3 571.2,910.5 575.7,911.1 580.1,904.3 584.6,916.8 589.1,905.5 593.5,914 598,912.8 602.4,889 606.9,903.5 611.4,908.3 615.8,890 620.3,914.3 624.7,901 629.2,908.7 633.6,910.2 638.1,904 642.6,913.1 647,907.3 651.5,912.6 655.9,912.4 660.4,903 664.9,899 669.3,886.4 673.8,869.8 678.2,865.9 682.7,854.6 687.1,841.3 691.6,832.5 696.1,830.4 700.5,828.7 705,828.7 709.4,836.2 713.9,841.2 718.4,851.2 722.8,859.9 727.3,865 731.7,868.6 736.2,874.5 740.6,880.9 745.1,886.1 749.6,888.5 754,889.6 758.5,894 762.9,898.2 767.4,903.1 771.9,904.3 776.3,906.1 780.8,909.6 785.2,909.7 789.7,908.2 794.1,914.4 798.6,909.8 803.1,910.2 807.5,912.1 812,909.2 816.4,911.5 820.9,911.9 825.4,911.4 829.8,912.5 834.3,913.9 838.7,909.5 843.2,911.8 847.6,910.1 852.1,912.9 856.6,911.1 861,909 865.5,911 869.9,910.5 874.4,912.7 878.9,909.5 883.3,911.6 887.8,908.9 892.2,902.3 896.7,904.7 901.1,897 905.6,888.9 910.1,879.4 914.5,863.7 919,840.2 923.4,799 927.9,731.8 932.4,673 936.8,631 941.3,602.2 945.7,588.9 950.2,583.1 954.6,577.7 959.1,578.1 963.6,585.4 968,597.9 972.5,640.5 976.9,710.5 981.4,760.3 985.9,803.3 990.3,835.6 994.8,863.7 999.2,882.8 1003.7,891.6 1008.1,901.1 1012.6,905.4 1017.1,904 1021.5,908.8 1026,909.9 1030.4,912.3 1034.9,911.4 1039.4,911.1 1043.8,912.5 1048.3,910.8 1052.7,911.4 1057.2,910 1061.6,911.4 1066.1,911.9 1070.6,911.4 1075,908.2 1079.5,907.6 1083.9,904.9 1088.4,902.6 1092.9,897.5 1097.3,895.4 1101.8,888.3 1106.2,881.4 1110.7,874.8 1115.1,866.9 1119.6,861.8 1124.1,853.9 1128.5,844.3 1133,834.6 1137.4,824.1 1141.9,808.9 1146.4,797.9 1150.8,796.2 1155.3,795.8 1159.7,797.6 1164.2,801.5 1168.6,813.5 1173.1,826.5 1177.6,840 1182,851.3 1186.5,871.4 1190.9,885.6 1195.4,897.4 1199.9,900.6 1204.3,908.1 1208.8,910.6 1213.2,910.2 1217.7,907.7 1222.1,899.6 1226.6,886 1231.1,869.7 1235.5,825.3 1240,767.2 1244.4,720.2 1248.9,680.6 1253.4,654 1257.8,645.6 1262.3,649.3 1266.7,652.2 1271.2,654.7 1275.6,655.9 1280.1,658.1 1284.6,663.9 1289,671.6 1293.5,679.2 1297.9,694.2 1302.4,710.8 1306.9,733.2 1311.3,760.7 1315.8,783.9 1320.2,808.8 1324.7,828.9 1329.1,847.6 1333.6,867.1 1338.1,875.7 1342.5,888.7 1347,895.6 1351.4,905.2 1355.9,907.5 1360.4,909.5 1364.8,909.8 1369.3,908.4 1373.7,912.1 1378.2,912 1382.6,911.9 1387.1,907.4 1391.6,905.1 1396,904.4 1400.5,900.7 1404.9,898.1 1409.4,894 1413.9,894.1 1418.3,894.9 1422.8,896.5 1427.2,891.8 1431.7,893.3 1436.1,894.4 1440.6,895.4 1445.1,899.9 1449.5,898.9 1454,904.9 1458.4,903.8 1462.9,906 1467.4,906.5 1471.8,910 1476.3,911 1480.7,908.8 1485.2,909.8 1489.6,911.4 1494.1,910.1 1498.6,910.5 1503,908.1 1507.5,908.7 1511.9,912.3 1516.4,910.7 1520.9,911.8 1525.3,911.4 1529.8,910.5 1534.2,912.5 1538.7,912.8 1543.1,912.8 1547.6,911.3 1552.1,909.3 1556.5,908.1 1561,905.9 1565.4,899 1569.9,897.1 1574.4,891.4 1578.8,889.6 1583.3,883.2 1587.7,879 1592.2,869.3 1596.6,862 1601.1,852.3 1605.6,835.4 1610,817 1614.5,798.6 1618.9,787.6 1623.4,779.1 1627.9,770.6 1632.3,768.6 1636.8,766 1641.2,769 1645.7,774.4 1650.1,780.4 1654.6,794.5 1659.1,814.8 1663.5,838.7 1668,856.8 1672.4,877.1 1676.9,890.7 1681.3,897.4 1685.8,903.9 1690.3,907.6 1694.7,911.2 1699.2,908.9 1703.6,913.1 1708.1,908.3 1712.6,912.1 1717,913.5 1721.5,910.9 1725.9,910 1730.4,911.8 1734.8,911.6 1739.3,912.1 1743.8,909.1 1748.2,912.3 1752.7,911.1 1757.1,911.8 1761.6,908.8 1766.1,912.1 1770.5,910.1 1775,911 1779.4,914.5 1783.9,912.8 1788.3,910.1 1792.8,912 1797.3,910.7 1801.7,910.5 1806.2,911.6 1810.6,913.6 1815.1,910 1819.6,913.2 1824,910.9 1828.5,911 1832.9,912.9 1837.4,911.1 1841.8,908.2 1846.3,911.8 1850.8,909.8 1855.2,912.6 1859.7,909.2 1864.1,909.4 1864.1,941" stroke="#c8f014"/>
<polygon points="480.9,998.9 480.9,963.9 485.4,967.2 489.8,962.5 494.3,973.5 498.7,965.7 503.2,968.4 507.6,957.6 512.1,974 516.6,966.5 521,967.7 525.5,965.8 529.9,967.8 534.4,976.8 538.9,970.2 543.3,962.3 547.8,965.2 552.2,969.7 556.7,962 561.1,966.9 565.6,966.4 570.1,950.5 574.5,947.8 579,968.1 583.4,966.2 587.9,967.7 592.4,969.6 596.8,967 601.3,967 605.7,975.8 610.2,943.5 614.6,958.1 619.1,953.9 623.6,948.8 628,939.3 632.5,928.1 636.9,912.3 641.4,914.2 645.9,898.6 650.3,897.5 654.8,892.7 659.2,893.9 663.7,905.2 668.1,907.9 672.6,909.8 677.1,925.1 681.5,925 686,931 690.4,933.6 694.9,942.4 699.4,941.7 703.8,952.8 708.3,953.8 712.7,956.2 717.2,954.9 721.6,959.9 726.1,965.8 730.6,962.8 735,965.3 739.5,967.9 743.9,966.3 748.4,969.5 752.9,968.6 757.3,969.8 761.8,968.9 766.2,967 770.7,968.7 775.1,969.2 779.6,969.1 784.1,969.2 788.5,968.9 793,969.7 797.4,970.3 801.9,969.3 806.4,969.7 810.8,969 815.3,970.1 819.7,968.3 824.2,967.9 828.6,969.7 833.1,966.9 837.6,969.6 842,964.6 846.5,962.7 850.9,959.8 855.4,956 859.9,949.9 864.3,941.1 868.8,923.6 873.2,903.5 877.7,868.8 882.1,806.7 886.6,757.7 891.1,720.5 895.5,688.9 900,684.3 904.4,681.2 908.9,675.2 913.4,673.1 917.8,676.7 922.3,688.7 926.7,730.9 931.2,793 935.6,833.4 940.1,869.6 944.6,902.7 949,927.6 953.5,944.3 957.9,952.6 962.4,958.8 966.9,965.8 971.3,966.8 975.8,968 980.2,966 984.7,969.9 989.1,968 993.6,969.5 998.1,968.3 1002.5,968 1007,969.9 1011.4,970.2 1015.9,969.5 1020.4,967.1 1024.8,969.7 1029.3,968.8 1033.7,966.2 1038.2,963.4 1042.6,961.1 1047.1,957.4 1051.6,952.8 1056,946.3 1060.5,941.4 1064.9,933.5 1069.4,929.9 1073.9,922.9 1078.3,915.1 1082.8,906.9 1087.2,898.7 1091.7,889.4 1096.1,876.6 1100.6,863.1 1105.1,863 1109.5,864.7 1114,862.1 1118.4,867.4 1122.9,880.8 1127.4,889.1 1131.8,901.8 1136.3,916.4 1140.7,931.3 1145.2,946.8 1149.6,955.4 1154.1,961.9 1158.6,967.8 1163,968.8 1167.5,968.3 1171.9,965.9 1176.4,962.1 1180.9,947.7 1185.3,928.7 1189.8,889.6 1194.2,835.8 1198.7,789.8 1203.1,752.3 1207.6,729.3 1212.1,721.6 1216.5,723.6 1221,726 1225.4,728.6 1229.9,729.5 1234.4,732.3 1238.8,736.5 1243.3,744.5 1247.7,752.3 1252.2,764.6 1256.6,782.2 1261.1,800.1 1265.6,827.5 1270,852.1 1274.5,869 1278.9,892.9 1283.4,914.3 1287.9,928.5 1292.3,939.8 1296.8,948.7 1301.2,954.7 1305.7,964.1 1310.1,968.7 1314.6,966.9 1319.1,968.3 1323.5,969.2 1328,969.2 1332.4,969.5 1336.9,968.1 1341.4,966.7 1345.8,964.2 1350.3,961.9 1354.7,958.2 1359.2,953.7 1363.6,952.4 1368.1,954.2 1372.6,953.5 1377,953.9 1381.5,953.9 1385.9,952.8 1390.4,953.3 1394.9,953.6 1399.3,955.9 1403.8,957.7 1408.2,960 1412.7,963.7 1417.1,963.3 1421.6,967.6 1426.1,966 1430.5,970 1435,970.7 1439.4,968 1443.9,968.2 1448.4,971 1452.8,969.8 1457.3,970.5 1461.7,967.3 1466.2,969.8 1470.6,969 1475.1,966.7 1479.6,968.9 1484,968.5 1488.5,969.1 1492.9,969.6 1497.4,970.4 1501.9,969.8 1506.3,967.9 1510.8,964.4 1515.2,963.1 1519.7,958.6 1524.1,956.3 1528.6,952.1 1533.1,946.5 1537.5,939.7 1542,937.4 1546.4,930 1550.9,921.5 1555.4,909.4 1559.8,898 1564.3,881 1568.7,863 1573.2,851.4 1577.6,841.3 1582.1,838.5 1586.6,836 1591,834.1 1595.5,831.2 1599.9,837.5 1604.4,847.5 1608.8,857.7 1613.3,878.5 1617.8,900.6 1622.2,919.3 1626.7,935.6 1631.1,949.8 1635.6,957 1640.1,961.9 1644.5,964.4 1649,966.2 1653.4,968.4 1657.9,968.1 1662.3,968.4 1666.8,968.4 1671.3,969 1675.7,969.7 1680.2,969.1 1684.6,968.2 1689.1,967.8 1693.6,969.5 1698,968.4 1702.5,969.1 1706.9,968.8 1711.4,968.4 1715.8,971.8 1720.3,966.8 1724.8,967.4 1729.2,968 1733.7,969.6 1738.1,966.9 1742.6,965.9 1747.1,968.3 1751.5,971.3 1756,967.8 1760.4,965.3 1764.9,965.2 1769.3,971.2 1773.8,970.2 1778.3,967.3 1782.7,968 1787.2,969 1791.6,969 1796.1,967.7 1800.6,970.7 1805,968.2 1809.5,968.5 1813.9,969.4 1818.4,969.7 1818.4,998.9" fill="#fff" stroke="none"/>
<polyline points="480.9,998.9 480.9,963.9 485.4,967.2 489.8,962.5 494.3,973.5 498.7,965.7 503.2,968.4 507.6,957.6 512.1,974 516.6,966.5 521,967.7 525.5,965.8 529.9,967.8 534.4,976.8 538.9,970.2 543.3,962.3 547.8,965.2 552.2,969.7 556.7,962 561.1,966.9 565.6,966.4 570.1,950.5 574.5,947.8 579,968.1 583.4,966.2 587.9,967.7 592.4,969.6 596.8,967 601.3,967 605.7,975.8 610.2,943.5 614.6,958.1 619.1,953.9 623.6,948.8 628,939.3 632.5,928.1 636.9,912.3 641.4,914.2 645.9,898.6 650.3,897.5 654.8,892.7 659.2,893.9 663.7,905.2 668.1,907.9 672.6,909.8 677.1,925.1 681.5,925 686,931 690.4,933.6 694.9,942.4 699.4,941.7 703.8,952.8 708.3,953.8 712.7,956.2 717.2,954.9 721.6,959.9 726.1,965.8 730.6,962.8 735,965.3 739.5,967.9 743.9,966.3 748.4,969.5 752.9,968.6 757.3,969.8 761.8,968.9 766.2,967 770.7,968.7 775.1,969.2 779.6,969.1 784.1,969.2 788.5,968.9 793,969.7 797.4,970.3 801.9,969.3 806.4,969.7 810.8,969 815.3,970.1 819.7,968.3 824.2,967.9 828.6,969.7 833.1,966.9 837.6,969.6 842,964.6 846.5,962.7 850.9,959.8 855.4,956 859.9,949.9 864.3,941.1 868.8,923.6 873.2,903.5 877.7,868.8 882.1,806.7 886.6,757.7 891.1,720.5 895.5,688.9 900,684.3 904.4,681.2 908.9,675.2 913.4,673.1 917.8,676.7 922.3,688.7 926.7,730.9 931.2,793 935.6,833.4 940.1,869.6 944.6,902.7 949,927.6 953.5,944.3 957.9,952.6 962.4,958.8 966.9,965.8 971.3,966.8 975.8,968 980.2,966 984.7,969.9 989.1,968 993.6,969.5 998.1,968.3 1002.5,968 1007,969.9 1011.4,970.2 1015.9,969.5 1020.4,967.1 1024.8,969.7 1029.3,968.8 1033.7,966.2 1038.2,963.4 1042.6,961.1 1047.1,957.4 1051.6,952.8 1056,946.3 1060.5,941.4 1064.9,933.5 1069.4,929.9 1073.9,922.9 1078.3,915.1 1082.8,906.9 1087.2,898.7 1091.7,889.4 1096.1,876.6 1100.6,863.1 1105.1,863 1109.5,864.7 1114,862.1 1118.4,867.4 1122.9,880.8 1127.4,889.1 1131.8,901.8 1136.3,916.4 1140.7,931.3 1145.2,946.8 1149.6,955.4 1154.1,961.9 1158.6,967.8 1163,968.8 1167.5,968.3 1171.9,965.9 1176.4,962.1 1180.9,947.7 1185.3,928.7 1189.8,889.6 1194.2,835.8 1198.7,789.8 1203.1,752.3 1207.6,729.3 1212.1,721.6 1216.5,723.6 1221,726 1225.4,728.6 1229.9,729.5 1234.4,732.3 1238.8,736.5 1243.3,744.5 1247.7,752.3 1252.2,764.6 1256.6,782.2 1261.1,800.1 1265.6,827.5 1270,852.1 1274.5,869 1278.9,892.9 1283.4,914.3 1287.9,928.5 1292.3,939.8 1296.8,948.7 1301.2,954.7 1305.7,964.1 1310.1,968.7 1314.6,966.9 1319.1,968.3 1323.5,969.2 1328,969.2 1332.4,969.5 1336.9,968.1 1341.4,966.7 1345.8,964.2 1350.3,961.9 1354.7,958.2 1359.2,953.7 1363.6,952.4 1368.1,954.2 1372.6,953.5 1377,953.9 1381.5,953.9 1385.9,952.8 1390.4,953.3 1394.9,953.6 1399.3,955.9 1403.8,957.7 1408.2,960 1412.7,963.7 1417.1,963.3 1421.6,967.6 1426.1,966 1430.5,970 1435,970.7 1439.4,968 1443.9,968.2 1448.4,971 1452.8,969.8 1457.3,970.5 1461.7,967.3 1466.2,969.8 1470.6,969 1475.1,966.7 1479.6,968.9 1484,968.5 1488.5,969.1 1492.9,969.6 1497.4,970.4 1501.9,969.8 1506.3,967.9 1510.8,964.4 1515.2,963.1 1519.7,958.6 1524.1,956.3 1528.6,952.1 1533.1,946.5 1537.5,939.7 1542,937.4 1546.4,930 1550.9,921.5 1555.4,909.4 1559.8,898 1564.3,881 1568.7,863 1573.2,851.4 1577.6,841.3 1582.1,838.5 1586.6,836 1591,834.1 1595.5,831.2 1599.9,837.5 1604.4,847.5 1608.8,857.7 1613.3,878.5 1617.8,900.6 1622.2,919.3 1626.7,935.6 1631.1,949.8 1635.6,957 1640.1,961.9 1644.5,964.4 1649,966.2 1653.4,968.4 1657.9,968.1 1662.3,968.4 1666.8,968.4 1671.3,969 1675.7,969.7 1680.2,969.1 1684.6,968.2 1689.1,967.8 1693.6,969.5 1698,968.4 1702.5,969.1 1706.9,968.8 1711.4,968.4 1715.8,971.8 1720.3,966.8 1724.8,967.4 1729.2,968 1733.7,969.6 1738.1,966.9 1742.6,965.9 1747.1,968.3 1751.5,971.3 1756,967.8 1760.4,965.3 1764.9,965.2 1769.3,971.2 1773.8,970.2 1778.3,967.3 1782.7,968 1787.2,969 1791.6,969 1796.1,967.7 1800.6,970.7 1805,968.2 1809.5,968.5 1813.9,969.4 1818.4,969.7 1818.4,998.9" stroke="#f5b000"/>
<polygon points="435.1,1056.8 435.1,1015.4 439.6,1027.6 444.1,1032.6 448.5,1005.8 453,1027.1 457.4,1020.7 461.9,1018.8 466.4,1025.8 470.8,1028.2 475.3,1024.9 479.7,1013.6 484.2,1030.1 488.6,1014.3 493.1,1015.5 497.6,1028.1 502,1019.1 506.5,1020.7 510.9,1015.2 515.4,1023.6 519.9,1024.8 524.3,1025.6 528.8,1026.2 533.2,1010 537.7,1029.7 542.1,1027 546.6,1013.2 551.1,1028.3 555.5,1027.2 560,1026.2 564.4,1024.9 568.9,1015.5 573.4,1000.3 577.8,1011.2 582.3,1002 586.7,991.9 591.2,977.4 595.6,970.9 600.1,968.1 604.6,959.2 609,956 613.5,959 617.9,964.6 622.4,971.5 626.9,977.3 631.3,981.2 635.8,985.1 640.2,990.4 644.7,993.2 649.1,1000.9 653.6,1001.8 658.1,1007.6 662.5,1008.2 667,1012.5 671.4,1015.2 675.9,1019.1 680.4,1019.5 684.8,1025.8 689.3,1022.8 693.7,1021.7 698.2,1025.5 702.6,1028 707.1,1023.1 711.6,1025.6 716,1027.7 720.5,1025.5 724.9,1027 729.4,1027 733.9,1025.2 738.3,1027 742.8,1026.8 747.2,1028.1 751.7,1029 756.1,1026.1 760.6,1027.7 765.1,1028.4 769.5,1026.5 774,1025.8 778.4,1025.8 782.9,1025.7 787.4,1025.6 791.8,1027.1 796.3,1021.3 800.7,1020.3 805.2,1017.8 809.6,1013.9 814.1,1009 818.6,999.7 823,987.1 827.5,966.9 831.9,933.1 836.4,875.1 840.9,826.2 845.3,787.6 849.8,762.7 854.2,751.9 858.7,748.9 863.1,743.1 867.6,742.7 872.1,746.6 876.5,759.3 881,798.5 885.4,858.1 889.9,898.3 894.4,932.6 898.8,962.2 903.3,986.9 907.7,1001.2 912.2,1011 916.6,1018.1 921.1,1024.6 925.6,1024.2 930,1025.7 934.5,1025 938.9,1026.3 943.4,1026 947.9,1028.3 952.3,1026.2 956.8,1027.4 961.2,1026.6 965.7,1026.8 970.1,1027.7 974.6,1025.4 979.1,1025.1 983.5,1026 988,1021.9 992.4,1023.2 996.9,1019.2 1001.4,1017 1005.8,1011.7 1010.3,1008 1014.7,999.9 1019.2,994.6 1023.6,988.7 1028.1,983.6 1032.6,977.3 1037,969.8 1041.5,961.3 1045.9,951.1 1050.4,940.1 1054.9,928.3 1059.3,928.4 1063.8,925 1068.2,928.4 1072.7,932.1 1077.1,942.3 1081.6,955.5 1086.1,963.8 1090.5,977.2 1095,994.7 1099.4,1003.9 1103.9,1014 1108.4,1020.9 1112.8,1022.7 1117.3,1023.6 1121.7,1026.2 1126.2,1024.5 1130.6,1019.1 1135.1,1004.4 1139.6,985.9 1144,949.1 1148.5,892.1 1152.9,846.4 1157.4,808.3 1161.9,785.9 1166.3,781.2 1170.8,781.2 1175.2,781.6 1179.7,782.6 1184.1,786.7 1188.6,789.4 1193.1,791.9 1197.5,797.4 1202,809.1 1206.4,821.7 1210.9,838.3 1215.4,858.2 1219.8,881.7 1224.3,907.4 1228.7,928.9 1233.2,949 1237.6,967.6 1242.1,986.7 1246.6,996.9 1251,1005.9 1255.5,1014.3 1259.9,1021.8 1264.4,1023.3 1268.9,1026.7 1273.3,1026.2 1277.8,1024.8 1282.2,1026.7 1286.7,1027.8 1291.1,1025.8 1295.6,1021.8 1300.1,1022.8 1304.5,1020 1309,1017 1313.4,1014.8 1317.9,1012.2 1322.4,1012.4 1326.8,1013.5 1331.3,1010.2 1335.7,1012.3 1340.2,1011 1344.6,1012.6 1349.1,1013.5 1353.6,1015.3 1358,1018.3 1362.5,1019.1 1366.9,1021 1371.4,1022 1375.9,1023.6 1380.3,1024.3 1384.8,1027.7 1389.2,1026.1 1393.7,1027.3 1398.1,1028.3 1402.6,1028 1407.1,1025.9 1411.5,1026.5 1416,1026.8 1420.4,1026 1424.9,1025.9 1429.4,1026 1433.8,1027.3 1438.3,1027.1 1442.7,1027.5 1447.2,1027.3 1451.6,1027.5 1456.1,1026.2 1460.6,1027.5 1465,1023.5 1469.5,1020.2 1473.9,1015.9 1478.4,1013.5 1482.9,1007.3 1487.3,1004.1 1491.8,1001.4 1496.2,994.9 1500.7,988.1 1505.1,979.1 1509.6,966.9 1514.1,954.5 1518.5,937 1523,919 1527.4,905.2 1531.9,895.8 1536.4,892.8 1540.8,886.4 1545.3,886.1 1549.7,886.9 1554.2,892.6 1558.6,900 1563.1,911.4 1567.6,935.3 1572,955.1 1576.5,974.7 1580.9,990.5 1585.4,1004.6 1589.8,1014.2 1594.3,1020.5 1598.8,1023.4 1603.2,1026 1607.7,1025.7 1612.1,1027.4 1616.6,1025.9 1621.1,1027.4 1625.5,1026 1630,1027.8 1634.4,1028.2 1638.9,1027.8 1643.3,1027.8 1647.8,1026 1652.3,1028.6 1656.7,1026.7 1661.2,1028.6 1665.6,1026.4 1670.1,1026.4 1674.6,1026.7 1679,1026.3 1683.5,1027 1687.9,1024.8 1692.4,1026.7 1696.8,1030.1 1701.3,1027.6 1705.8,1027.8 1710.2,1026.3 1714.7,1028.8 1719.1,1027.9 1723.6,1026.6 1728.1,1027.4 1732.5,1027.3 1737,1028.2 1741.4,1027.2 1745.9,1026.8 1750.3,1026.9 1754.8,1027.4 1759.3,1026 1763.7,1025.6 1768.2,1027.1 1772.6,1027.1 1772.6,1056.8" fill="#fff" stroke="none"/>
<polyline points="435.1,1056.8 435.1,1015.4 439.6,1027.6 444.1,1032.6 448.5,1005.8 453,1027.1 457.4,1020.7 461.9,1018.8 466.4,1025.8 470.8,1028.2 475.3,1024.9 479.7,1013.6 484.2,1030.1 488.6,1014.3 493.1,1015.5 497.6,1028.1 502,1019.1 506.5,1020.7 510.9,1015.2 515.4,1023.6 519.9,1024.8 524.3,1025.6 528.8,1026.2 533.2,1010 537.7,1029.7 542.1,1027 546.6,1013.2 551.1,1028.3 555.5,1027.2 560,1026.2 564.4,1024.9 568.9,1015.5 573.4,1000.3 577.8,1011.2 582.3,1002 586.7,991.9 591.2,977.4 595.6,970.9 600.1,968.1 604.6,959.2 609,956 613.5,959 617.9,964.6 622.4,971.5 626.9,977.3 631.3,981.2 635.8,985.1 640.2,990.4 644.7,993.2 649.1,1000.9 653.6,1001.8 658.1,1007.6 662.5,1008.2 667,1012.5 671.4,1015.2 675.9,1019.1 680.4,1019.5 684.8,1025.8 689.3,1022.8 693.7,1021.7 698.2,1025.5 702.6,1028 707.1,1023.1 711.6,1025.6 716,1027.7 720.5,1025.5 724.9,1027 729.4,1027 733.9,1025.2 738.3,1027 742.8,1026.8 747.2,1028.1 751.7,1029 756.1,1026.1 760.6,1027.7 765.1,1028.4 769.5,1026.5 774,1025.8 778.4,1025.8 782.9,1025.7 787.4,1025.6 791.8,1027.1 796.3,1021.3 800.7,1020.3 805.2,1017.8 809.6,1013.9 814.1,1009 818.6,999.7 823,987.1 827.5,966.9 831.9,933.1 836.4,875.1 840.9,826.2 845.3,787.6 849.8,762.7 854.2,751.9 858.7,748.9 863.1,743.1 867.6,742.7 872.1,746.6 876.5,759.3 881,798.5 885.4,858.1 889.9,898.3 894.4,932.6 898.8,962.2 903.3,986.9 907.7,1001.2 912.2,1011 916.6,1018.1 921.1,1024.6 925.6,1024.2 930,1025.7 934.5,1025 938.9,1026.3 943.4,1026 947.9,1028.3 952.3,1026.2 956.8,1027.4 961.2,1026.6 965.7,1026.8 970.1,1027.7 974.6,1025.4 979.1,1025.1 983.5,1026 988,1021.9 992.4,1023.2 996.9,1019.2 1001.4,1017 1005.8,1011.7 1010.3,1008 1014.7,999.9 1019.2,994.6 1023.6,988.7 1028.1,983.6 1032.6,977.3 1037,969.8 1041.5,961.3 1045.9,951.1 1050.4,940.1 1054.9,928.3 1059.3,928.4 1063.8,925 1068.2,928.4 1072.7,932.1 1077.1,942.3 1081.6,955.5 1086.1,963.8 1090.5,977.2 1095,994.7 1099.4,1003.9 1103.9,1014 1108.4,1020.9 1112.8,1022.7 1117.3,1023.6 1121.7,1026.2 1126.2,1024.5 1130.6,1019.1 1135.1,1004.4 1139.6,985.9 1144,949.1 1148.5,892.1 1152.9,846.4 1157.4,808.3 1161.9,785.9 1166.3,781.2 1170.8,781.2 1175.2,781.6 1179.7,782.6 1184.1,786.7 1188.6,789.4 1193.1,791.9 1197.5,797.4 1202,809.1 1206.4,821.7 1210.9,838.3 1215.4,858.2 1219.8,881.7 1224.3,907.4 1228.7,928.9 1233.2,949 1237.6,967.6 1242.1,986.7 1246.6,996.9 1251,1005.9 1255.5,1014.3 1259.9,1021.8 1264.4,1023.3 1268.9,1026.7 1273.3,1026.2 1277.8,1024.8 1282.2,1026.7 1286.7,1027.8 1291.1,1025.8 1295.6,1021.8 1300.1,1022.8 1304.5,1020 1309,1017 1313.4,1014.8 1317.9,1012.2 1322.4,1012.4 1326.8,1013.5 1331.3,1010.2 1335.7,1012.3 1340.2,1011 1344.6,1012.6 1349.1,1013.5 1353.6,1015.3 1358,1018.3 1362.5,1019.1 1366.9,1021 1371.4,1022 1375.9,1023.6 1380.3,1024.3 1384.8,1027.7 1389.2,1026.1 1393.7,1027.3 1398.1,1028.3 1402.6,1028 1407.1,1025.9 1411.5,1026.5 1416,1026.8 1420.4,1026 1424.9,1025.9 1429.4,1026 1433.8,1027.3 1438.3,1027.1 1442.7,1027.5 1447.2,1027.3 1451.6,1027.5 1456.1,1026.2 1460.6,1027.5 1465,1023.5 1469.5,1020.2 1473.9,1015.9 1478.4,1013.5 1482.9,1007.3 1487.3,1004.1 1491.8,1001.4 1496.2,994.9 1500.7,988.1 1505.1,979.1 1509.6,966.9 1514.1,954.5 1518.5,937 1523,919 1527.4,905.2 1531.9,895.8 1536.4,892.8 1540.8,886.4 1545.3,886.1 1549.7,886.9 1554.2,892.6 1558.6,900 1563.1,911.4 1567.6,935.3 1572,955.1 1576.5,974.7 1580.9,990.5 1585.4,1004.6 1589.8,1014.2 1594.3,1020.5 1598.8,1023.4 1603.2,1026 1607.7,1025.7 1612.1,1027.4 1616.6,1025.9 1621.1,1027.4 1625.5,1026 1630,1027.8 1634.4,1028.2 1638.9,1027.8 1643.3,1027.8 1647.8,1026 1652.3,1028.6 1656.7,1026.7 1661.2,1028.6 1665.6,1026.4 1670.1,1026.4 1674.6,1026.7 1679,1026.3 1683.5,1027 1687.9,1024.8 1692.4,1026.7 1696.8,1030.1 1701.3,1027.6 1705.8,1027.8 1710.2,1026.3 1714.7,1028.8 1719.1,1027.9 1723.6,1026.6 1728.1,1027.4 1732.5,1027.3 1737,1028.2 1741.4,1027.2 1745.9,1026.8 1750.3,1026.9 1754.8,1027.4 1759.3,1026 1763.7,1025.6 1768.2,1027.1 1772.6,1027.1 1772.6,1056.8" stroke="#ff2000"/>
<polygon points="389.4,1114.7 389.4,1082.7 393.9,1085.1 398.3,1089.5 402.8,1089.1 407.2,1070.6 411.7,1091.4 416.1,1085.3 420.6,1088.4 425.1,1088.7 429.5,1077.8 434,1081.3 438.4,1083.5 442.9,1085.7 447.4,1084.2 451.8,1083.1 456.3,1086.4 460.7,1082.8 465.2,1075.3 469.6,1085.6 474.1,1090.1 478.6,1083.1 483,1083.2 487.5,1089 491.9,1083.2 496.4,1072.7 500.9,1087.7 505.3,1081.5 509.8,1083.1 514.2,1082.4 518.7,1070.6 523.1,1082.1 527.6,1077.2 532.1,1069 536.5,1062.7 541,1041.8 545.4,1033 549.9,1036.9 554.4,1030.3 558.8,1028.1 563.3,1024.2 567.7,1026.4 572.2,1030.7 576.6,1036.1 581.1,1039.4 585.6,1045.5 590,1049.5 594.5,1055.3 598.9,1061 603.4,1064.2 607.9,1064 612.3,1068.3 616.8,1070.4 621.2,1072.9 625.7,1074 630.1,1078.7 634.6,1081.3 639.1,1082 643.5,1084 648,1082 652.4,1084.8 656.9,1085.3 661.4,1085.1 665.8,1085.6 670.3,1085 674.7,1081.3 679.2,1085.4 683.6,1084 688.1,1085 692.6,1083.6 697,1083.2 701.5,1082.5 705.9,1084.6 710.4,1086.7 714.9,1083.3 719.3,1083.3 723.8,1086.1 728.2,1083.3 732.7,1086.9 737.1,1085.5 741.6,1086.6 746.1,1085.6 750.5,1082.5 755,1078.1 759.4,1079.6 763.9,1075.1 768.4,1070.7 772.8,1060.4 777.3,1047.8 781.7,1032.2 786.2,1000.4 790.6,950.6 795.1,908.2 799.6,876.1 804,852.3 808.5,846.4 812.9,840.6 817.4,834.9 821.9,836.6 826.3,839.3 830.8,849.5 835.2,883.4 839.7,937.2 844.1,971.3 848.6,1002.4 853.1,1026.2 857.5,1051.2 862,1063.2 866.4,1071.8 870.9,1077.7 875.4,1080.6 879.8,1082.3 884.3,1082.8 888.7,1086.4 893.2,1084.1 897.6,1082.4 902.1,1084 906.6,1085.4 911,1085.5 915.5,1085 919.9,1083.6 924.4,1085 928.9,1085.1 933.3,1086 937.8,1082.9 942.2,1083.8 946.7,1080.3 951.1,1077.6 955.6,1077.3 960.1,1071.1 964.5,1065.2 969,1060.3 973.4,1054.8 977.9,1049.8 982.4,1042.9 986.8,1038.1 991.3,1030 995.7,1021.5 1000.2,1013.9 1004.6,1000 1009.1,993 1013.6,989 1018,989.6 1022.5,989.7 1026.9,994.6 1031.4,1005.2 1035.9,1017.5 1040.3,1025.3 1044.8,1038.6 1049.2,1052.6 1053.7,1063.2 1058.1,1072.9 1062.6,1080 1067.1,1081.3 1071.5,1083.5 1076,1085.3 1080.4,1082.8 1084.9,1075.5 1089.4,1065.3 1093.8,1046.9 1098.3,1011.2 1102.7,958.8 1107.2,916.5 1111.6,882.2 1116.1,858.8 1120.6,854.2 1125,853.1 1129.5,857.4 1133.9,858.6 1138.4,856 1142.9,861.4 1147.3,864.4 1151.8,868.9 1156.2,878.9 1160.7,891.3 1165.1,905.7 1169.6,926.1 1174.1,951 1178.5,971.9 1183,993.2 1187.4,1012.1 1191.9,1031.8 1196.4,1046 1200.8,1056 1205.3,1063.8 1209.7,1071.3 1214.2,1078.6 1218.6,1083 1223.1,1084.6 1227.6,1085.3 1232,1086.2 1236.5,1084 1240.9,1083.6 1245.4,1083.5 1249.9,1082.2 1254.3,1083.5 1258.8,1080.9 1263.2,1075.8 1267.7,1072.9 1272.1,1069.4 1276.6,1069 1281.1,1070.9 1285.5,1070.8 1290,1070.6 1294.4,1070 1298.9,1069.7 1303.4,1071.7 1307.8,1073.2 1312.3,1077 1316.7,1077.6 1321.2,1078.6 1325.6,1081.8 1330.1,1083 1334.6,1082.9 1339,1084.4 1343.5,1083.7 1347.9,1084.8 1352.4,1084.9 1356.9,1085.2 1361.3,1085.2 1365.8,1084.7 1370.2,1084.4 1374.7,1084.8 1379.1,1084.9 1383.6,1085.2 1388.1,1085 1392.5,1086.2 1397,1086.9 1401.4,1085.2 1405.9,1085.5 1410.4,1082.8 1414.8,1083.9 1419.3,1081.6 1423.7,1079.7 1428.2,1074.1 1432.6,1071.2 1437.1,1067.5 1441.6,1064.7 1446,1060.3 1450.5,1056 1454.9,1047.7 1459.4,1041.2 1463.9,1029.9 1468.3,1017.7 1472.8,1000.6 1477.2,984.8 1481.7,971.9 1486.1,964.5 1490.6,960.6 1495.1,955.9 1499.5,953.1 1504,958 1508.4,960.8 1512.9,967.2 1517.3,979.3 1521.8,999.3 1526.3,1020.5 1530.7,1035.6 1535.2,1051.7 1539.6,1065.5 1544.1,1072.2 1548.6,1077.4 1553,1084.6 1557.5,1083.9 1561.9,1084.2 1566.4,1083.9 1570.8,1086.3 1575.3,1086 1579.8,1083.7 1584.2,1085.3 1588.7,1084.4 1593.1,1084.3 1597.6,1084 1602.1,1085.1 1606.5,1083.8 1611,1086.7 1615.4,1085.1 1619.9,1081.7 1624.3,1086 1628.8,1084 1633.3,1085.2 1637.7,1085.7 1642.2,1083.2 1646.6,1085.6 1651.1,1084.7 1655.6,1084.4 1660,1086.4 1664.5,1084.3 1668.9,1084.7 1673.4,1085.6 1677.8,1086 1682.3,1085.4 1686.8,1085 1691.2,1084 1695.7,1083.8 1700.1,1084.2 1704.6,1083.3 1709.1,1085.6 1713.5,1084.6 1718,1084.5 1722.4,1083.3 1726.9,1083.9 1726.9,1114.7" fill="#fff" stroke="none"/>
<polyline points="389.4,1114.7 389.4,1082.7 393.9,1085.1 398.3,1089.5 402.8,1089.1 407.2,1070.6 411.7,1091.4 416.1,1085.3 420.6,1088.4 425.1,1088.7 429.5,1077.8 434,1081.3 438.4,1083.5 442.9,1085.7 447.4,1084.2 451.8,1083.1 456.3,1086.4 460.7,1082.8 465.2,1075.3 469.6,1085.6 474.1,1090.1 478.6,1083.1 483,1083.2 487.5,1089 491.9,1083.2 496.4,1072.7 500.9,1087.7 505.3,1081.5 509.8,1083.1 514.2,1082.4 518.7,1070.6 523.1,1082.1 527.6,1077.2 532.1,1069 536.5,1062.7 541,1041.8 545.4,1033 549.9,1036.9 554.4,1030.3 558.8,1028.1 563.3,1024.2 567.7,1026.4 572.2,1030.7 576.6,1036.1 581.1,1039.4 585.6,1045.5 590,1049.5 594.5,1055.3 598.9,1061 603.4,1064.2 607.9,1064 612.3,1068.3 616.8,1070.4 621.2,1072.9 625.7,1074 630.1,1078.7 634.6,1081.3 639.1,1082 643.5,1084 648,1082 652.4,1084.8 656.9,1085.3 661.4,1085.1 665.8,1085.6 670.3,1085 674.7,1081.3 679.2,1085.4 683.6,1084 688.1,1085 692.6,1083.6 697,1083.2 701.5,1082.5 705.9,1084.6 710.4,1086.7 714.9,1083.3 719.3,1083.3 723.8,1086.1 728.2,1083.3 732.7,1086.9 737.1,1085.5 741.6,1086.6 746.1,1085.6 750.5,1082.5 755,1078.1 759.4,1079.6 763.9,1075.1 768.4,1070.7 772.8,1060.4 777.3,1047.8 781.7,1032.2 786.2,1000.4 790.6,950.6 795.1,908.2 799.6,876.1 804,852.3 808.5,846.4 812.9,840.6 817.4,834.9 821.9,836.6 826.3,839.3 830.8,849.5 835.2,883.4 839.7,937.2 844.1,971.3 848.6,1002.4 853.1,1026.2 857.5,1051.2 862,1063.2 866.4,1071.8 870.9,1077.7 875.4,1080.6 879.8,1082.3 884.3,1082.8 888.7,1086.4 893.2,1084.1 897.6,1082.4 902.1,1084 906.6,1085.4 911,1085.5 915.5,1085 919.9,1083.6 924.4,1085 928.9,1085.1 933.3,1086 937.8,1082.9 942.2,1083.8 946.7,1080.3 951.1,1077.6 955.6,1077.3 960.1,1071.1 964.5,1065.2 969,1060.3 973.4,1054.8 977.9,1049.8 982.4,1042.9 986.8,1038.1 991.3,1030 995.7,1021.5 1000.2,1013.9 1004.6,1000 1009.1,993 1013.6,989 1018,989.6 1022.5,989.7 1026.9,994.6 1031.4,1005.2 1035.9,1017.5 1040.3,1025.3 1044.8,1038.6 1049.2,1052.6 1053.7,1063.2 1058.1,1072.9 1062.6,1080 1067.1,1081.3 1071.5,1083.5 1076,1085.3 1080.4,1082.8 1084.9,1075.5 1089.4,1065.3 1093.8,1046.9 1098.3,1011.2 1102.7,958.8 1107.2,916.5 1111.6,882.2 1116.1,858.8 1120.6,854.2 1125,853.1 1129.5,857.4 1133.9,858.6 1138.4,856 1142.9,861.4 1147.3,864.4 1151.8,868.9 1156.2,878.9 1160.7,891.3 1165.1,905.7 1169.6,926.1 1174.1,951 1178.5,971.9 1183,993.2 1187.4,1012.1 1191.9,1031.8 1196.4,1046 1200.8,1056 1205.3,1063.8 1209.7,1071.3 1214.2,1078.6 1218.6,1083 1223.1,1084.6 1227.6,1085.3 1232,1086.2 1236.5,1084 1240.9,1083.6 1245.4,1083.5 1249.9,1082.2 1254.3,1083.5 1258.8,1080.9 1263.2,1075.8 1267.7,1072.9 1272.1,1069.4 1276.6,1069 1281.1,1070.9 1285.5,1070.8 1290,1070.6 1294.4,1070 1298.9,1069.7 1303.4,1071.7 1307.8,1073.2 1312.3,1077 1316.7,1077.6 1321.2,1078.6 1325.6,1081.8 1330.1,1083 1334.6,1082.9 1339,1084.4 1343.5,1083.7 1347.9,1084.8 1352.4,1084.9 1356.9,1085.2 1361.3,1085.2 1365.8,1084.7 1370.2,1084.4 1374.7,1084.8 1379.1,1084.9 1383.6,1085.2 1388.1,1085 1392.5,1086.2 1397,1086.9 1401.4,1085.2 1405.9,1085.5 1410.4,1082.8 1414.8,1083.9 1419.3,1081.6 1423.7,1079.7 1428.2,1074.1 1432.6,1071.2 1437.1,1067.5 1441.6,1064.7 1446,1060.3 1450.5,1056 1454.9,1047.7 1459.4,1041.2 1463.9,1029.9 1468.3,1017.7 1472.8,1000.6 1477.2,984.8 1481.7,971.9 1486.1,964.5 1490.6,960.6 1495.1,955.9 1499.5,953.1 1504,958 1508.4,960.8 1512.9,967.2 1517.3,979.3 1521.8,999.3 1526.3,1020.5 1530.7,1035.6 1535.2,1051.7 1539.6,1065.5 1544.1,1072.2 1548.6,1077.4 1553,1084.6 1557.5,1083.9 1561.9,1084.2 1566.4,1083.9 1570.8,1086.3 1575.3,1086 1579.8,1083.7 1584.2,1085.3 1588.7,1084.4 1593.1,1084.3 1597.6,1084 1602.1,1085.1 1606.5,1083.8 1611,1086.7 1615.4,1085.1 1619.9,1081.7 1624.3,1086 1628.8,1084 1633.3,1085.2 1637.7,1085.7 1642.2,1083.2 1646.6,1085.6 1651.1,1084.7 1655.6,1084.4 1660,1086.4 1664.5,1084.3 1668.9,1084.7 1673.4,1085.6 1677.8,1086 1682.3,1085.4 1686.8,1085 1691.2,1084 1695.7,1083.8 1700.1,1084.2 1704.6,1083.3 1709.1,1085.6 1713.5,1084.6 1718,1084.5 1722.4,1083.3 1726.9,1083.9 1726.9,1114.7" stroke="#e81010"/>
<polygon points="343.6,1172.6 343.6,1109 348.1,1150.4 352.6,1143.1 357,1151.9 361.5,1146.8 365.9,1147.1 370.4,1141.6 374.9,1143.3 379.3,1134.4 383.8,1146.6 388.2,1148.2 392.7,1148.7 397.1,1131.4 401.6,1124.3 406.1,1136.5 410.5,1140.7 415,1133.4 419.4,1145.1 423.9,1141.2 428.4,1143.9 432.8,1146.5 437.3,1142.5 441.7,1134.4 446.2,1131 450.6,1144 455.1,1143.9 459.6,1141.6 464,1124.2 468.5,1142.9 472.9,1141.7 477.4,1131.5 481.9,1133.7 486.3,1132 490.8,1122.7 495.2,1117.5 499.7,1107.1 504.1,1100.3 508.6,1096.6 513.1,1093 517.5,1088.7 522,1092.8 526.4,1094.9 530.9,1103 535.4,1105.2 539.8,1108.7 544.3,1112.7 548.7,1116.8 553.2,1121.1 557.6,1124 562.1,1124 566.6,1129 571,1132.7 575.5,1133.9 579.9,1135.3 584.4,1138.7 588.9,1137.4 593.3,1140 597.8,1141.6 602.2,1141.8 606.7,1142.9 611.1,1141.4 615.6,1141.9 620.1,1141.4 624.5,1143.6 629,1141 633.4,1142.4 637.9,1143.9 642.4,1143.1 646.8,1142.1 651.3,1143.2 655.7,1143.7 660.2,1142.6 664.6,1142.1 669.1,1142.9 673.6,1142.5 678,1141.6 682.5,1141 686.9,1139.9 691.4,1142.8 695.9,1142.6 700.3,1142.6 704.8,1139.6 709.2,1137.7 713.7,1134.7 718.1,1132.2 722.6,1128.1 727.1,1119.8 731.5,1107.7 736,1089.8 740.4,1062.5 744.9,1013.4 749.4,972.9 753.8,941.4 758.3,921.4 762.7,911.8 767.2,909.7 771.6,904.5 776.1,903.3 780.6,907.7 785,917.2 789.5,949.2 793.9,999.4 798.4,1033.5 802.9,1063.1 807.3,1087.5 811.8,1109.6 816.2,1122.6 820.7,1129.1 825.1,1133.8 829.6,1139.1 834.1,1140 838.5,1141.6 843,1139.9 847.4,1142.6 851.9,1142.6 856.4,1144 860.8,1142 865.3,1142.9 869.7,1142.7 874.2,1143.7 878.6,1142.4 883.1,1142.4 887.6,1143.4 892,1140.4 896.5,1141 900.9,1139.2 905.4,1134.7 909.9,1132.8 914.3,1131.1 918.8,1123.4 923.2,1120.1 927.7,1112.9 932.1,1108.3 936.6,1102.6 941.1,1096.5 945.5,1088.6 950,1081 954.4,1072.5 958.9,1060.6 963.4,1050.4 967.8,1049.4 972.3,1050.5 976.7,1050 981.2,1053.6 985.6,1065.1 990.1,1073.5 994.6,1084.7 999,1097.8 1003.5,1111.3 1007.9,1121.3 1012.4,1132.2 1016.9,1137 1021.3,1138.6 1025.8,1142 1030.2,1143.3 1034.7,1141.3 1039.1,1135 1043.6,1122 1048.1,1105.3 1052.5,1070.9 1057,1020.6 1061.4,978.7 1065.9,944.8 1070.4,923.9 1074.8,918.2 1079.3,917.3 1083.7,918.4 1088.2,920.7 1092.6,920.3 1097.1,922.7 1101.6,926.7 1106,931.8 1110.5,940.6 1114.9,952 1119.4,967.1 1123.9,985.6 1128.3,1011.2 1132.8,1032.3 1137.2,1051.5 1141.7,1074.6 1146.1,1091.1 1150.6,1104.8 1155.1,1115.2 1159.5,1122.1 1164,1130.1 1168.4,1136.9 1172.9,1141.8 1177.4,1141.2 1181.8,1143.1 1186.3,1142.7 1190.7,1141.8 1195.2,1143.5 1199.6,1141.5 1204.1,1140.5 1208.6,1140 1213,1137.5 1217.5,1134.5 1221.9,1132.9 1226.4,1129.9 1230.9,1129.3 1235.3,1130.1 1239.8,1129.3 1244.2,1129.8 1248.7,1128.8 1253.1,1129.8 1257.6,1131.8 1262.1,1133.5 1266.5,1134.4 1271,1136.4 1275.4,1137.3 1279.9,1139.3 1284.4,1141.3 1288.8,1140.4 1293.3,1142.4 1297.7,1142 1302.2,1142.2 1306.6,1141.9 1311.1,1143.3 1315.6,1142 1320,1142.9 1324.5,1143.3 1328.9,1142.2 1333.4,1143 1337.9,1143.7 1342.3,1143 1346.8,1143.9 1351.2,1141.4 1355.7,1140 1360.1,1141.7 1364.6,1142.7 1369.1,1142.7 1373.5,1140.3 1378,1137.3 1382.4,1133.9 1386.9,1130.3 1391.4,1128.5 1395.8,1122.3 1400.3,1118.8 1404.7,1115.3 1409.2,1108.1 1413.6,1101.2 1418.1,1091.8 1422.6,1076.9 1427,1061.6 1431.5,1046.7 1435.9,1034 1440.4,1028.6 1444.9,1022.9 1449.3,1021.3 1453.8,1017.1 1458.2,1019.8 1462.7,1025.7 1467.1,1033.6 1471.6,1042.1 1476.1,1061.2 1480.5,1081.1 1485,1096.7 1489.4,1111.7 1493.9,1124.2 1498.3,1132.7 1502.8,1137.1 1507.3,1139.9 1511.7,1140.9 1516.2,1142 1520.6,1142.9 1525.1,1142.9 1529.6,1143 1534,1142.5 1538.5,1143.5 1542.9,1142.4 1547.4,1143.9 1551.8,1141.9 1556.3,1142.2 1560.8,1141.8 1565.2,1142.6 1569.7,1143.2 1574.1,1141.6 1578.6,1143.3 1583.1,1142.3 1587.5,1141.8 1592,1141.3 1596.4,1141 1600.9,1142.4 1605.3,1143 1609.8,1142.8 1614.3,1141.8 1618.7,1143.9 1623.2,1143.1 1627.6,1142.7 1632.1,1143.2 1636.6,1143.2 1641,1142.1 1645.5,1142.1 1649.9,1141.4 1654.4,1142 1658.8,1142.4 1663.3,1141.2 1667.8,1142 1672.2,1141.7 1676.7,1143.6 1681.1,1142.8 1681.1,1172.6" fill="#fff" stroke="none"/>
<polyline points="343.6,1172.6 343.6,1109 348.1,1150.4 352.6,1143.1 357,1151.9 361.5,1146.8 365.9,1147.1 370.4,1141.6 374.9,1143.3 379.3,1134.4 383.8,1146.6 388.2,1148.2 392.7,1148.7 397.1,1131.4 401.6,1124.3 406.1,1136.5 410.5,1140.7 415,1133.4 419.4,1145.1 423.9,1141.2 428.4,1143.9 432.8,1146.5 437.3,1142.5 441.7,1134.4 446.2,1131 450.6,1144 455.1,1143.9 459.6,1141.6 464,1124.2 468.5,1142.9 472.9,1141.7 477.4,1131.5 481.9,1133.7 486.3,1132 490.8,1122.7 495.2,1117.5 499.7,1107.1 504.1,1100.3 508.6,1096.6 513.1,1093 517.5,1088.7 522,1092.8 526.4,1094.9 530.9,1103 535.4,1105.2 539.8,1108.7 544.3,1112.7 548.7,1116.8 553.2,1121.1 557.6,1124 562.1,1124 566.6,1129 571,1132.7 575.5,1133.9 579.9,1135.3 584.4,1138.7 588.9,1137.4 593.3,1140 597.8,1141.6 602.2,1141.8 606.7,1142.9 611.1,1141.4 615.6,1141.9 620.1,1141.4 624.5,1143.6 629,1141 633.4,1142.4 637.9,1143.9 642.4,1143.1 646.8,1142.1 651.3,1143.2 655.7,1143.7 660.2,1142.6 664.6,1142.1 669.1,1142.9 673.6,1142.5 678,1141.6 682.5,1141 686.9,1139.9 691.4,1142.8 695.9,1142.6 700.3,1142.6 704.8,1139.6 709.2,1137.7 713.7,1134.7 718.1,1132.2 722.6,1128.1 727.1,1119.8 731.5,1107.7 736,1089.8 740.4,1062.5 744.9,1013.4 749.4,972.9 753.8,941.4 758.3,921.4 762.7,911.8 767.2,909.7 771.6,904.5 776.1,903.3 780.6,907.7 785,917.2 789.5,949.2 793.9,999.4 798.4,1033.5 802.9,1063.1 807.3,1087.5 811.8,1109.6 816.2,1122.6 820.7,1129.1 825.1,1133.8 829.6,1139.1 834.1,1140 838.5,1141.6 843,1139.9 847.4,1142.6 851.9,1142.6 856.4,1144 860.8,1142 865.3,1142.9 869.7,1142.7 874.2,1143.7 878.6,1142.4 883.1,1142.4 887.6,1143.4 892,1140.4 896.5,1141 900.9,1139.2 905.4,1134.7 909.9,1132.8 914.3,1131.1 918.8,1123.4 923.2,1120.1 927.7,1112.9 932.1,1108.3 936.6,1102.6 941.1,1096.5 945.5,1088.6 950,1081 954.4,1072.5 958.9,1060.6 963.4,1050.4 967.8,1049.4 972.3,1050.5 976.7,1050 981.2,1053.6 985.6,1065.1 990.1,1073.5 994.6,1084.7 999,1097.8 1003.5,1111.3 1007.9,1121.3 1012.4,1132.2 1016.9,1137 1021.3,1138.6 1025.8,1142 1030.2,1143.3 1034.7,1141.3 1039.1,1135 1043.6,1122 1048.1,1105.3 1052.5,1070.9 1057,1020.6 1061.4,978.7 1065.9,944.8 1070.4,923.9 1074.8,918.2 1079.3,917.3 1083.7,918.4 1088.2,920.7 1092.6,920.3 1097.1,922.7 1101.6,926.7 1106,931.8 1110.5,940.6 1114.9,952 1119.4,967.1 1123.9,985.6 1128.3,1011.2 1132.8,1032.3 1137.2,1051.5 1141.7,1074.6 1146.1,1091.1 1150.6,1104.8 1155.1,1115.2 1159.5,1122.1 1164,1130.1 1168.4,1136.9 1172.9,1141.8 1177.4,1141.2 1181.8,1143.1 1186.3,1142.7 1190.7,1141.8 1195.2,1143.5 1199.6,1141.5 1204.1,1140.5 1208.6,1140 1213,1137.5 1217.5,1134.5 1221.9,1132.9 1226.4,1129.9 1230.9,1129.3 1235.3,1130.1 1239.8,1129.3 1244.2,1129.8 1248.7,1128.8 1253.1,1129.8 1257.6,1131.8 1262.1,1133.5 1266.5,1134.4 1271,1136.4 1275.4,1137.3 1279.9,1139.3 1284.4,1141.3 1288.8,1140.4 1293.3,1142.4 1297.7,1142 1302.2,1142.2 1306.6,1141.9 1311.1,1143.3 1315.6,1142 1320,1142.9 1324.5,1143.3 1328.9,1142.2 1333.4,1143 1337.9,1143.7 1342.3,1143 1346.8,1143.9 1351.2,1141.4 1355.7,1140 1360.1,1141.7 1364.6,1142.7 1369.1,1142.7 1373.5,1140.3 1378,1137.3 1382.4,1133.9 1386.9,1130.3 1391.4,1128.5 1395.8,1122.3 1400.3,1118.8 1404.7,1115.3 1409.2,1108.1 1413.6,1101.2 1418.1,1091.8 1422.6,1076.9 1427,1061.6 1431.5,1046.7 1435.9,1034 1440.4,1028.6 1444.9,1022.9 1449.3,1021.3 1453.8,1017.1 1458.2,1019.8 1462.7,1025.7 1467.1,1033.6 1471.6,1042.1 1476.1,1061.2 1480.5,1081.1 1485,1096.7 1489.4,1111.7 1493.9,1124.2 1498.3,1132.7 1502.8,1137.1 1507.3,1139.9 1511.7,1140.9 1516.2,1142 1520.6,1142.9 1525.1,1142.9 1529.6,1143 1534,1142.5 1538.5,1143.5 1542.9,1142.4 1547.4,1143.9 1551.8,1141.9 1556.3,1142.2 1560.8,1141.8 1565.2,1142.6 1569.7,1143.2 1574.1,1141.6 1578.6,1143.3 1583.1,1142.3 1587.5,1141.8 1592,1141.3 1596.4,1141 1600.9,1142.4 1605.3,1143 1609.8,1142.8 1614.3,1141.8 1618.7,1143.9 1623.2,1143.1 1627.6,1142.7 1632.1,1143.2 1636.6,1143.2 1641,1142.1 1645.5,1142.1 1649.9,1141.4 1654.4,1142 1658.8,1142.4 1663.3,1141.2 1667.8,1142 1672.2,1141.7 1676.7,1143.6 1681.1,1142.8 1681.1,1172.6" stroke="#d20000"/>
<polygon points="297.9,1230.5 297.9,1168.5 302.4,1207.7 306.8,1213.2 311.3,1203.2 315.7,1203.8 320.2,1196.8 324.6,1185.8 329.1,1196.2 333.6,1206.3 338,1199.1 342.5,1193.9 346.9,1199.6 351.4,1191.6 355.9,1203.6 360.3,1190.7 364.8,1186.4 369.2,1201.8 373.7,1195.8 378.1,1201.1 382.6,1198.3 387.1,1204.5 391.5,1204.1 396,1203.2 400.4,1199.8 404.9,1200.1 409.4,1200.5 413.8,1198.9 418.3,1199.7 422.7,1201.4 427.2,1197.8 431.6,1198.4 436.1,1192.8 440.6,1186.4 445,1181.8 449.5,1171.6 453.9,1167.3 458.4,1153.7 462.9,1151.2 467.3,1146.1 471.8,1141.8 476.2,1146.7 480.7,1149.7 485.1,1152.7 489.6,1157 494.1,1161.5 498.5,1167.9 503,1174 507.4,1173.5 511.9,1175.7 516.4,1182.3 520.8,1182.6 525.3,1187 529.7,1189.9 534.2,1191.3 538.6,1194 543.1,1196.5 547.6,1196.9 552,1197.9 556.5,1199.1 560.9,1199.2 565.4,1200.7 569.9,1202 574.3,1199.5 578.8,1199 583.2,1199.2 587.7,1201.1 592.1,1199.9 596.6,1199.5 601.1,1200.6 605.5,1201.2 610,1201.6 614.4,1201.4 618.9,1200.5 623.4,1200 627.8,1200.3 632.3,1201.7 636.7,1201.5 641.2,1200.1 645.6,1200.1 650.1,1202.2 654.6,1201.8 659,1197.3 663.5,1194.2 667.9,1193.7 672.4,1188.2 676.9,1186.2 681.3,1178 685.8,1168.3 690.2,1151 694.7,1126.3 699.1,1078.9 703.6,1041.8 708.1,1011.8 712.5,992.4 717,985.2 721.4,980.3 725.9,977.1 730.4,979 734.8,980.8 739.3,989 743.7,1020.6 748.2,1067.6 752.6,1098.6 757.1,1127 761.6,1149.8 766,1169.9 770.5,1183.4 774.9,1189 779.4,1191.9 783.9,1194.8 788.3,1199.1 792.8,1199.9 797.2,1200.1 801.7,1201.6 806.1,1200.1 810.6,1199.4 815.1,1200.5 819.5,1200.1 824,1201.2 828.4,1198.8 832.9,1199.6 837.4,1200.8 841.8,1200.9 846.3,1199.9 850.7,1198.8 855.2,1195.8 859.6,1194.9 864.1,1190.3 868.6,1187.8 873,1184.4 877.5,1178.8 881.9,1173 886.4,1167.9 890.9,1161.2 895.3,1156.7 899.8,1149.6 904.2,1142.5 908.7,1135.9 913.1,1122.9 917.6,1116 922.1,1112.7 926.5,1112.3 931,1114.3 935.4,1117.3 939.9,1127.7 944.4,1138 948.8,1146 953.3,1159.3 957.7,1170.3 962.2,1182.6 966.6,1190.8 971.1,1193.5 975.6,1196.3 980,1199.6 984.5,1199.3 988.9,1197.2 993.4,1193.6 997.9,1182.1 1002.3,1165.6 1006.8,1130 1011.2,1083.2 1015.7,1043.4 1020.1,1010.8 1024.6,990.4 1029.1,985.1 1033.5,982.6 1038,984.9 1042.4,985.1 1046.9,984.8 1051.4,988.4 1055.8,991.7 1060.3,998.3 1064.7,1005 1069.2,1016.1 1073.6,1030.2 1078.1,1046.6 1082.6,1070 1087,1093.5 1091.5,1114 1095.9,1130.6 1100.4,1152.5 1104.9,1164.2 1109.3,1174.9 1113.8,1180.3 1118.2,1189.1 1122.7,1195 1127.1,1200.1 1131.6,1200 1136.1,1200.6 1140.5,1200.2 1145,1200.1 1149.4,1200.9 1153.9,1200.4 1158.4,1198.2 1162.8,1196.3 1167.3,1195.7 1171.7,1193.4 1176.2,1189.7 1180.6,1189.4 1185.1,1188.7 1189.6,1191 1194,1188.6 1198.5,1190.5 1202.9,1188.4 1207.4,1187.9 1211.9,1190.6 1216.3,1190.6 1220.8,1192.1 1225.2,1195 1229.7,1196.9 1234.1,1196.5 1238.6,1197.7 1243.1,1199.1 1247.5,1199.6 1252,1202.1 1256.4,1200.4 1260.9,1200.1 1265.4,1199.8 1269.8,1200.3 1274.3,1199.5 1278.7,1200.8 1283.2,1201.7 1287.6,1199.6 1292.1,1199.6 1296.6,1201.7 1301,1202 1305.5,1200.7 1309.9,1200.8 1314.4,1200.8 1318.9,1201.2 1323.3,1198.9 1327.8,1197 1332.2,1195.4 1336.7,1191.9 1341.1,1189.3 1345.6,1185.3 1350.1,1180.8 1354.5,1179.2 1359,1172.4 1363.4,1164.3 1367.9,1157.1 1372.4,1148.5 1376.8,1134.1 1381.3,1120.3 1385.7,1104.2 1390.2,1091 1394.6,1084.2 1399.1,1080.7 1403.6,1077.9 1408,1073.9 1412.5,1078.3 1416.9,1082.5 1421.4,1089.1 1425.8,1100.1 1430.3,1117 1434.8,1138 1439.2,1153.7 1443.7,1168.8 1448.1,1182.3 1452.6,1188.3 1457.1,1194.7 1461.5,1194.5 1466,1199.1 1470.4,1202 1474.9,1201.4 1479.3,1200.1 1483.8,1201.7 1488.3,1201.5 1492.7,1200.6 1497.2,1199.4 1501.6,1202.5 1506.1,1202.3 1510.6,1200.9 1515,1201.9 1519.5,1200.3 1523.9,1201.3 1528.4,1200.6 1532.8,1201.6 1537.3,1201.2 1541.8,1199.8 1546.2,1199.2 1550.7,1200.8 1555.1,1202 1559.6,1200.7 1564.1,1200.7 1568.5,1200 1573,1199.1 1577.4,1201.6 1581.9,1200 1586.3,1201.2 1590.8,1200 1595.3,1201.3 1599.7,1198.8 1604.2,1200.6 1608.6,1200.4 1613.1,1200.9 1617.6,1200.8 1622,1200 1626.5,1200.8 1630.9,1200 1635.4,1201.4 1635.4,1230.5" fill="#fff" stroke="none"/>
<polyline points="297.9,1230.5 297.9,1168.5 302.4,1207.7 306.8,1213.2 311.3,1203.2 315.7,1203.8 320.2,1196.8 324.6,1185.8 329.1,1196.2 333.6,1206.3 338,1199.1 342.5,1193.9 346.9,1199.6 351.4,1191.6 355.9,1203.6 360.3,1190.7 364.8,1186.4 369.2,1201.8 373.7,1195.8 378.1,1201.1 382.6,1198.3 387.1,1204.5 391.5,1204.1 396,1203.2 400.4,1199.8 404.9,1200.1 409.4,1200.5 413.8,1198.9 418.3,1199.7 422.7,1201.4 427.2,1197.8 431.6,1198.4 436.1,1192.8 440.6,1186.4 445,1181.8 449.5,1171.6 453.9,1167.3 458.4,1153.7 462.9,1151.2 467.3,1146.1 471.8,1141.8 476.2,1146.7 480.7,1149.7 485.1,1152.7 489.6,1157 494.1,1161.5 498.5,1167.9 503,1174 507.4,1173.5 511.9,1175.7 516.4,1182.3 520.8,1182.6 525.3,1187 529.7,1189.9 534.2,1191.3 538.6,1194 543.1,1196.5 547.6,1196.9 552,1197.9 556.5,1199.1 560.9,1199.2 565.4,1200.7 569.9,1202 574.3,1199.5 578.8,1199 583.2,1199.2 587.7,1201.1 592.1,1199.9 596.6,1199.5 601.1,1200.6 605.5,1201.2 610,1201.6 614.4,1201.4 618.9,1200.5 623.4,1200 627.8,1200.3 632.3,1201.7 636.7,1201.5 641.2,1200.1 645.6,1200.1 650.1,1202.2 654.6,1201.8 659,1197.3 663.5,1194.2 667.9,1193.7 672.4,1188.2 676.9,1186.2 681.3,1178 685.8,1168.3 690.2,1151 694.7,1126.3 699.1,1078.9 703.6,1041.8 708.1,1011.8 712.5,992.4 717,985.2 721.4,980.3 725.9,977.1 730.4,979 734.8,980.8 739.3,989 743.7,1020.6 748.2,1067.6 752.6,1098.6 757.1,1127 761.6,1149.8 766,1169.9 770.5,1183.4 774.9,1189 779.4,1191.9 783.9,1194.8 788.3,1199.1 792.8,1199.9 797.2,1200.1 801.7,1201.6 806.1,1200.1 810.6,1199.4 815.1,1200.5 819.5,1200.1 824,1201.2 828.4,1198.8 832.9,1199.6 837.4,1200.8 841.8,1200.9 846.3,1199.9 850.7,1198.8 855.2,1195.8 859.6,1194.9 864.1,1190.3 868.6,1187.8 873,1184.4 877.5,1178.8 881.9,1173 886.4,1167.9 890.9,1161.2 895.3,1156.7 899.8,1149.6 904.2,1142.5 908.7,1135.9 913.1,1122.9 917.6,1116 922.1,1112.7 926.5,1112.3 931,1114.3 935.4,1117.3 939.9,1127.7 944.4,1138 948.8,1146 953.3,1159.3 957.7,1170.3 962.2,1182.6 966.6,1190.8 971.1,1193.5 975.6,1196.3 980,1199.6 984.5,1199.3 988.9,1197.2 993.4,1193.6 997.9,1182.1 1002.3,1165.6 1006.8,1130 1011.2,1083.2 1015.7,1043.4 1020.1,1010.8 1024.6,990.4 1029.1,985.1 1033.5,982.6 1038,984.9 1042.4,985.1 1046.9,984.8 1051.4,988.4 1055.8,991.7 1060.3,998.3 1064.7,1005 1069.2,1016.1 1073.6,1030.2 1078.1,1046.6 1082.6,1070 1087,1093.5 1091.5,1114 1095.9,1130.6 1100.4,1152.5 1104.9,1164.2 1109.3,1174.9 1113.8,1180.3 1118.2,1189.1 1122.7,1195 1127.1,1200.1 1131.6,1200 1136.1,1200.6 1140.5,1200.2 1145,1200.1 1149.4,1200.9 1153.9,1200.4 1158.4,1198.2 1162.8,1196.3 1167.3,1195.7 1171.7,1193.4 1176.2,1189.7 1180.6,1189.4 1185.1,1188.7 1189.6,1191 1194,1188.6 1198.5,1190.5 1202.9,1188.4 1207.4,1187.9 1211.9,1190.6 1216.3,1190.6 1220.8,1192.1 1225.2,1195 1229.7,1196.9 1234.1,1196.5 1238.6,1197.7 1243.1,1199.1 1247.5,1199.6 1252,1202.1 1256.4,1200.4 1260.9,1200.1 1265.4,1199.8 1269.8,1200.3 1274.3,1199.5 1278.7,1200.8 1283.2,1201.7 1287.6,1199.6 1292.1,1199.6 1296.6,1201.7 1301,1202 1305.5,1200.7 1309.9,1200.8 1314.4,1200.8 1318.9,1201.2 1323.3,1198.9 1327.8,1197 1332.2,1195.4 1336.7,1191.9 1341.1,1189.3 1345.6,1185.3 1350.1,1180.8 1354.5,1179.2 1359,1172.4 1363.4,1164.3 1367.9,1157.1 1372.4,1148.5 1376.8,1134.1 1381.3,1120.3 1385.7,1104.2 1390.2,1091 1394.6,1084.2 1399.1,1080.7 1403.6,1077.9 1408,1073.9 1412.5,1078.3 1416.9,1082.5 1421.4,1089.1 1425.8,1100.1 1430.3,1117 1434.8,1138 1439.2,1153.7 1443.7,1168.8 1448.1,1182.3 1452.6,1188.3 1457.1,1194.7 1461.5,1194.5 1466,1199.1 1470.4,1202 1474.9,1201.4 1479.3,1200.1 1483.8,1201.7 1488.3,1201.5 1492.7,1200.6 1497.2,1199.4 1501.6,1202.5 1506.1,1202.3 1510.6,1200.9 1515,1201.9 1519.5,1200.3 1523.9,1201.3 1528.4,1200.6 1532.8,1201.6 1537.3,1201.2 1541.8,1199.8 1546.2,1199.2 1550.7,1200.8 1555.1,1202 1559.6,1200.7 1564.1,1200.7 1568.5,1200 1573,1199.1 1577.4,1201.6 1581.9,1200 1586.3,1201.2 1590.8,1200 1595.3,1201.3 1599.7,1198.8 1604.2,1200.6 1608.6,1200.4 1613.1,1200.9 1617.6,1200.8 1622,1200 1626.5,1200.8 1630.9,1200 1635.4,1201.4 1635.4,1230.5" stroke="#800000"/>
</g>
<g font-family="'Liberation Sans', sans-serif" fill="#000">
<text transform="matrix(0.7165 0 0 0.7042 214.21 1341.8)" font-size="100">450</text>
<text transform="matrix(0.7138 0 0 0.7042 436.78 1341.8)" font-size="100">500</text>
<text transform="matrix(0.7138 0 0 0.7042 659.66 1341.8)" font-size="100">550</text>
<text transform="matrix(0.7184 0 0 0.7042 881.81 1341.8)" font-size="100">600</text>
<text transform="matrix(0.7184 0 0 0.7042 1104.7 1341.8)" font-size="100">650</text>
<text transform="matrix(0.7184 0 0 0.7042 1327.58 1341.8)" font-size="100">700</text>
<text transform="matrix(0.7184 0 0 0.7042 1550.47 1341.8)" font-size="100">750</text>
<text transform="matrix(0.9121 0 0 0.8763 602.34 1462.53)" font-size="100">Wavelength (nm)</text>
<text transform="matrix(0.7122 0 0 0.6958 1732.44 1265.5)" font-size="100">70</text>
<text transform="matrix(0.7157 0 0 0.6958 1778.2 1207.5)" font-size="100">65</text>
<text transform="matrix(0.7122 0 0 0.6958 1824 1149.5)" font-size="100">60</text>
<text transform="matrix(0.7087 0 0 0.7108 1870.51 1091.49)" font-size="100">55</text>
<text transform="matrix(0.7053 0 0 0.6958 1916.3 1033.5)" font-size="100">50</text>
<text transform="matrix(0.6986 0 0 0.7108 1963.15 975.49)" font-size="100">45</text>
<text transform="matrix(0.6952 0 0 0.6958 2008.94 917.5)" font-size="100">40</text>
<text transform="matrix(0.7087 0 0 0.6958 2053.63 859.5)" font-size="100">35</text>
<text transform="matrix(0.7053 0 0 0.6958 2099.42 801.5)" font-size="100">30</text>
<text transform="matrix(0.7157 0 0 0.6958 2144.44 743.5)" font-size="100">25</text>
<text transform="matrix(0 -0.9025 0.8817 0 2253.42 627.82)" font-size="100">Intensity (a.u.)</text>
<text transform="translate(2152 1077) rotate(-52)" font-size="90" text-anchor="middle">T (<tspan font-size="72" dy="-24">o</tspan><tspan dy="24">C)</tspan></text>
<text transform="matrix(0.9209 0 0 0.9785 130.47 109.24)" font-size="100">(a)</text>
<path d="M2092.5 57.5H1622.5V190.8H2092.5" fill="#fff" stroke="#d0d0d0" stroke-width="1.3"/>
<text transform="matrix(0.8923 0 0 0.7262 1630.47 144.5)" font-size="100" font-family="'Liberation Serif', serif">λ</text>
<text transform="matrix(0.423 0 0 0.4514 1673.1 168.15)" font-size="100">ex</text>
<text transform="matrix(0.764 0 0 0.7901 1741.18 143.61)" font-size="100">= 312 nm</text>
<text transform="matrix(1.0895 0 0 1.0685 1113.76 122.49)" font-size="100" font-weight="bold" fill="#0a960a">*</text>
<text transform="matrix(1.0684 0 0 1.0411 1431.17 340.62)" font-size="100" font-weight="bold" fill="#ff0000">*</text>
</g>
<g id="pb" fill="none" stroke="#000" stroke-width="3">
<path d="M467.7 1587.9V2664.9 M466.3 2663.5H1916"/>
<path d="M467.7 2663.3h-21M467.7 2529.1h-9.5M467.7 2394.8h-21M467.7 2260.6h-9.5M467.7 2126.3h-21M467.7 1992.1h-9.5M467.7 1857.8h-21M467.7 1723.6h-9.5M467.7 1589.3h-21M466.7 2663.5v20M598.3 2663.5v10M729.9 2663.5v20M861.5 2663.5v10M993.2 2663.5v20M1124.8 2663.5v10M1256.4 2663.5v20M1388 2663.5v10M1519.7 2663.5v20M1651.3 2663.5v10M1782.9 2663.5v20M1914.5 2663.5v10"/>
<path d="M598.3 1654.4V1915.6M587.1 1654.4h22.4M587.1 1915.6h22.4M729.9 1732.4V2001.3M718.7 1732.4h22.4M718.7 2001.3h22.4M861.5 1863V2046.3M850.3 1863h22.4M850.3 2046.3h22.4M993.2 1940.2V2084.4M982 1940.2h22.4M982 2084.4h22.4M1124.8 2046.3V2199.2M1113.6 2046.3h22.4M1113.6 2199.2h22.4M1256.4 2154.2V2280M1245.2 2154.2h22.4M1245.2 2280h22.4M1388 2249.2V2352.4M1376.8 2249.2h22.4M1376.8 2352.4h22.4M1519.7 2322.4V2454.8M1508.5 2322.4h22.4M1508.5 2454.8h22.4M1651.3 2365.9V2508.3M1640.1 2365.9h22.4M1640.1 2508.3h22.4M1782.9 2449.4V2574M1771.7 2449.4h22.4M1771.7 2574h22.4" stroke-width="2.9"/>
<rect x="586" y="1772.7" width="24.6" height="24.6" fill="#000" stroke="none"/>
<rect x="717.6" y="1853.3" width="24.6" height="24.6" fill="#000" stroke="none"/>
<rect x="849.2" y="1941.5" width="24.6" height="24.6" fill="#000" stroke="none"/>
<rect x="980.9" y="1999.2" width="24.6" height="24.6" fill="#000" stroke="none"/>
<rect x="1112.5" y="2110.3" width="24.6" height="24.6" fill="#000" stroke="none"/>
<rect x="1244.1" y="2203.9" width="24.6" height="24.6" fill="#000" stroke="none"/>
<rect x="1375.8" y="2288.2" width="24.6" height="24.6" fill="#000" stroke="none"/>
<rect x="1507.4" y="2375.1" width="24.6" height="24.6" fill="#000" stroke="none"/>
<rect x="1639" y="2423.3" width="24.6" height="24.6" fill="#000" stroke="none"/>
<rect x="1770.6" y="2497.3" width="24.6" height="24.6" fill="#000" stroke="none"/>
<path d="M598.3 1791L1783 2531.7" stroke="#0000f5" stroke-width="5.7"/>
</g>
<g font-family="'Liberation Sans', sans-serif" fill="#000">
<text transform="matrix(0.7088 0 0 0.7042 332.16 2682.6)" font-size="100">0.6</text>
<text transform="matrix(0.7088 0 0 0.7042 332.16 2414.1)" font-size="100">0.8</text>
<text transform="matrix(0.6996 0 0 0.7042 333.05 2145.6)" font-size="100">1.0</text>
<text transform="matrix(0.7051 0 0 0.7143 333.01 1877.8)" font-size="100">1.2</text>
<text transform="matrix(0.6942 0 0 0.7299 333.09 1609.3)" font-size="100">1.4</text>
<text transform="matrix(0.7122 0 0 0.7042 424.61 2753.3)" font-size="100">20</text>
<text transform="matrix(0.7053 0 0 0.7042 688.6 2753.3)" font-size="100">30</text>
<text transform="matrix(0.6952 0 0 0.7042 952.94 2753.3)" font-size="100">40</text>
<text transform="matrix(0.7053 0 0 0.7042 1215.1 2753.3)" font-size="100">50</text>
<text transform="matrix(0.7122 0 0 0.7042 1477.61 2753.3)" font-size="100">60</text>
<text transform="matrix(0.7122 0 0 0.7042 1740.86 2753.3)" font-size="100">70</text>
<text transform="matrix(0.7699 0 0 0.838 1045.58 2862)" font-size="100">T</text>
<text transform="matrix(0.7925 0 0 0.8065 1124.25 2860.47)" font-size="100">(</text>
<text transform="matrix(0.6958 0 0 0.8941 1160.55 2862.4)" font-size="100" fill="#3a3a3a">□</text>
<text transform="matrix(0.873 0 0 0.8065 1215.43 2860.47)" font-size="100">C)</text>
<text transform="matrix(0 -0.8602 0.8419 0 262.74 2341.88)" font-size="100">LIR (I</text>
<text transform="matrix(0 -0.5994 0.6129 0 288.69 2130.7)" font-size="100">545</text>
<text transform="matrix(0 -0.7527 0.8544 0 263.65 2030)" font-size="100">/I</text>
<text transform="matrix(0 -0.5816 0.6 0 288.7 1986.21)" font-size="100">615</text>
<text transform="matrix(0 -0.8346 0.8419 0 262.74 1882.53)" font-size="100">)</text>
<text transform="matrix(1.0064 0 0 0.9968 128.26 1576.27)" font-size="100">(b)</text>
<g fill="#0000f5">
<text transform="matrix(0.7194 0 0 0.7042 511.4 2318.3)" font-size="100">25 - 70 ºC</text>
<text transform="matrix(0.7157 0 0 0.7042 511.77 2406.7)" font-size="100">LIR = 1.554 − 0.019 x T</text>
<text transform="matrix(0.7563 0 0 0.7285 511.45 2507.3)" font-size="100">R</text>
<text transform="matrix(0.5165 0 0 0.47 564.92 2473.8)" font-size="100">2</text>
<text transform="matrix(0.7207 0 0 0.7099 592.51 2507.09)" font-size="100">: 0.9923</text>
<text transform="matrix(0.5849 0 0 0.6978 513.99 2595.39)" font-size="100">(</text>
<text transform="matrix(0.6566 0 0 0.7065 541.52 2594.8)" font-size="100" font-style="italic">n</text>
<text transform="matrix(0.7305 0 0 0.6978 596.35 2595.39)" font-size="100">= 3)</text>
</g></g>
<defs>
<linearGradient id="gr" x1="0" x2="1" y1="0" y2="0"><stop offset="0" stop-color="#d04040"/><stop offset="0.08" stop-color="#a81010"/><stop offset="0.38" stop-color="#b81414"/><stop offset="0.5" stop-color="#e41010"/><stop offset="0.7" stop-color="#ff0000"/><stop offset="1" stop-color="#ff2020"/></linearGradient>
<linearGradient id="grh" x1="0" x2="1" y1="0" y2="0"><stop offset="0" stop-color="#a00808"/><stop offset="0.3" stop-color="#b41010"/><stop offset="0.48" stop-color="#f00000"/><stop offset="0.6" stop-color="#ff0808"/><stop offset="0.85" stop-color="#e80000"/><stop offset="1" stop-color="#c80000"/></linearGradient>
<linearGradient id="gg" x1="0" x2="1" y1="0" y2="0"><stop offset="0" stop-color="#58c088"/><stop offset="0.1" stop-color="#0f7a40"/><stop offset="0.42" stop-color="#148044"/><stop offset="0.5" stop-color="#18b058"/><stop offset="0.6" stop-color="#10d868"/><stop offset="0.72" stop-color="#08c85c"/><stop offset="0.8" stop-color="#00b850"/><stop offset="1" stop-color="#30c070"/></linearGradient>
<linearGradient id="ggh" x1="0" x2="1" y1="0" y2="0"><stop offset="0" stop-color="#0c6c38"/><stop offset="0.3" stop-color="#128848"/><stop offset="0.5" stop-color="#10c860"/><stop offset="0.62" stop-color="#0cc05a"/><stop offset="0.85" stop-color="#0aa04c"/><stop offset="1" stop-color="#088040"/></linearGradient>
<linearGradient id="gp" x1="0" x2="1" y1="0" y2="0"><stop offset="0" stop-color="#7a30a8"/><stop offset="0.3" stop-color="#8a44c0"/><stop offset="0.5" stop-color="#7c38ac"/><stop offset="0.56" stop-color="#52287a"/><stop offset="0.9" stop-color="#4c2672"/><stop offset="1" stop-color="#7a50a0"/></linearGradient>
<linearGradient id="gph" x1="0" x2="1" y1="0" y2="0"><stop offset="0" stop-color="#5a1e8c"/><stop offset="0.3" stop-color="#7030a4"/><stop offset="0.48" stop-color="#8840bc"/><stop offset="0.6" stop-color="#6a2c98"/><stop offset="0.8" stop-color="#4c2078"/><stop offset="1" stop-color="#401868"/></linearGradient>
</defs>
<g id="pc">
<path d="M15 2917.4H2292.3" fill="none" stroke="#e6e6e6" stroke-width="1.4"/><path d="M2292.3 2917.4V4371" fill="none" stroke="#c6c6c6" stroke-width="1.4"/>
<path d="M456 3103H467.2V4220H441.5M467.2 4071h-25.7M467.2 3922h-25.7M467.2 3773h-25.7M467.2 3624h-25.7M467.2 3475h-25.7M467.2 3326h-25.7M467.2 3177h-25.7M467.2 4145.5h-11.2M467.2 3996.5h-11.2M467.2 3847.5h-11.2M467.2 3698.5h-11.2M467.2 3549.5h-11.2M467.2 3400.5h-11.2M467.2 3251.5h-11.2" fill="none" stroke="#000" stroke-width="4"/>
<rect x="907" y="2987" width="872" height="162.5" fill="#fff" stroke="#555" stroke-width="2.6"/>
<rect x="1244.5" y="3204.5" width="277.2" height="92.3" fill="#7a7a7a"/>
<rect x="1244.5" y="3374" width="277.2" height="91.6" fill="#7a7a7a"/>
<path d="M644.5 3357.7H923M644.5 3371.9H923M644.5 3387.6H923M644.5 3398.5H923M644.5 3409.5H923M644.5 3428.4H923M644.5 3456.9H923M644.5 3485H923M644.5 3566.3H923M644.5 3642.7H923M644.5 3694.1H923M644.5 4095.7H923M644.5 4107.3H923M644.5 4125.3H923M644.5 4141.4H923M644.5 4161.4H923M644.5 4188.7H923M644.5 4205.6H923M1834.5 3168.3H2111.5M1834.5 3202.4H2111.5M1834.5 3227.8H2111.5M1834.5 3276.5H2111.5M1834.5 3328.3H2111.5M1834.5 3367.4H2111.5M1834.5 3382H2111.5M1834.5 3402H2111.5M1834.5 3416.5H2111.5M1834.5 3430H2111.5M1834.5 3600.6H2111.5M1834.5 4061.6H2111.5M1834.5 4080H2111.5M1834.5 4096.1H2111.5M1834.5 4116.5H2111.5M1834.5 4133H2111.5M1834.5 4151.8H2111.5M1834.5 4208.6H2111.5" fill="none" stroke="#000" stroke-width="5.7"/>
<path d="M1239.3 4210H1516.7" fill="none" stroke="#000" stroke-width="5"/>
<rect x="644.5" y="3390" width="278.5" height="17" fill="#000" opacity="0.12"/>
<path d="M717.4 3358L715.7 3360L714.5 3362L713.8 3364L713.5 3366L713.8 3368L714.5 3370L715.7 3372L717.4 3374L719.5 3376L721.9 3378L724.6 3380L727.5 3382L730.5 3384L733.5 3386L736.5 3388L739.4 3390L742.1 3392L744.5 3394L746.6 3396L748.3 3398L749.5 3400L750.2 3402L750.5 3404L750.2 3406L749.5 3408L748.3 3410L746.6 3412L744.5 3414L742.1 3416L739.4 3418L736.5 3420L733.5 3422L730.5 3424L727.5 3426L724.6 3428L721.9 3430L719.5 3432L717.4 3434L715.7 3436L714.5 3438L713.8 3440L713.5 3442L713.8 3444L714.5 3446L715.7 3448L717.4 3450L719.5 3452L721.9 3454L724.6 3456L727.5 3458L730.5 3460L733.5 3462L736.5 3464L739.4 3466L742.1 3468L744.5 3470L746.6 3472L748.3 3474L749.5 3476L750.2 3478L750.5 3480L750.2 3482L749.5 3484L748.3 3486L746.6 3488L744.5 3490L742.1 3492L739.4 3494L736.5 3496L733.5 3498L730.5 3500L727.5 3502L724.6 3504L721.9 3506L719.5 3508L717.4 3510L715.7 3512L714.5 3514L713.8 3516L713.5 3518L713.8 3520L714.5 3522L715.7 3524L717.4 3526L719.5 3528L721.9 3530L724.6 3532L727.5 3534L730.5 3536L733.5 3538L736.5 3540L739.4 3542L742.1 3544L744.5 3546L746.6 3548L748.3 3550L749.5 3552L750.2 3554L750.5 3556L750.2 3558L749.5 3560L748.3 3562L746.6 3564L744.5 3566L742.1 3568L739.4 3570L736.5 3572L733.5 3574L730.5 3576L727.5 3578L724.6 3580L721.9 3582L719.5 3584L717.4 3586L715.7 3588L714.5 3590L713.8 3592L713.5 3594L713.8 3596L714.5 3598L715.7 3600L717.4 3602L719.5 3604L721.9 3606L724.6 3608L727.5 3610L730.5 3612L733.5 3614L736.5 3616L739.4 3618L742.1 3620L744.5 3622L746.6 3624L748.3 3626L749.5 3628L750.2 3630L750.5 3632L750.2 3634L749.5 3636L748.3 3638L746.6 3640L744.5 3642L742.1 3644L739.4 3646L736.5 3648L733.5 3650L730.5 3652L727.5 3654L724.6 3656L721.9 3658L719.5 3660L717.4 3662L715.7 3664L714.5 3666L713.8 3668L713.5 3670L713.3 3680M2010.2 3163L2010.1 3165L2009.4 3167L2008.3 3169L2006.7 3171L2004.7 3173L2002.3 3175L1999.6 3177L1996.7 3179L1993.7 3181L1990.6 3183L1987.5 3185L1984.5 3187L1981.8 3189L1979.4 3191L1977.2 3193L1975.6 3195L1974.3 3197L1973.6 3199L1973.4 3201L1973.7 3203L1974.5 3205L1975.9 3207L1977.6 3209L1979.8 3211L1982.3 3213L1985.1 3215L1988.1 3217L1991.2 3219L1994.3 3221L1997.3 3223L2000.2 3225L2002.8 3227L2005.1 3229L2007.1 3231L2008.6 3233L2009.6 3235L2010.1 3237L2010.1 3239L2009.6 3241L2008.6 3243L2007.1 3245L2005.1 3247L2002.8 3249L2000.2 3251L1997.3 3253L1994.3 3255L1991.2 3257L1988.1 3259L1985.1 3261L1982.3 3263L1979.8 3265L1977.6 3267L1975.9 3269L1974.5 3271L1973.7 3273L1973.4 3275L1973.6 3277L1974.3 3279L1975.6 3281L1977.2 3283L1979.4 3285L1981.8 3287L1984.5 3289L1987.5 3291L1990.6 3293L1993.7 3295L1996.7 3297L1999.6 3299L2002.3 3301L2004.7 3303L2006.7 3305L2008.3 3307L2009.4 3309L2010.1 3311L2010.2 3313L2009.8 3315L2008.8 3317L2007.4 3319L2005.6 3321L2003.3 3323L2000.7 3325L1997.9 3327L1994.9 3329L1991.8 3331L1988.7 3333L1985.7 3335L1982.9 3337L1980.3 3339L1978 3341L1976.2 3343L1974.8 3345L1973.8 3347L1973.4 3349L1973.5 3351L1974.2 3353L1975.3 3355L1976.9 3357L1978.9 3359L1981.3 3361L1984 3363L1986.9 3365L1989.9 3367L1993 3369L1996.1 3371L1999.1 3373L2001.8 3375L2004.2 3377L2006.4 3379L2008 3381L2009.3 3383L2010 3385L2010.2 3387L2009.9 3389L2009.1 3391L2007.7 3393L2006 3395L2003.8 3397L2001.3 3399L1998.5 3401L1995.5 3403L1992.4 3405L1989.3 3407L1986.3 3409L1983.4 3411L1980.8 3413L1978.5 3415L1976.5 3417L1975 3419L1974 3421L1973.5 3423L1973.5 3425L1974 3427L1975 3429L1976.5 3431L1978.5 3433L1980.8 3435L1983.4 3437L1986.3 3439L1989.3 3441L1992.4 3443L1995.5 3445L1998.5 3447L2001.3 3449L2003.8 3451L2006 3453L2007.7 3455L2009.1 3457L2009.9 3459L2010.2 3461L2010 3463L2009.3 3465L2008 3467L2006.4 3469L2004.2 3471L2001.8 3473L1999.1 3475L1996.1 3477L1993 3479L1989.9 3481L1986.9 3483L1984 3485L1981.3 3487L1978.9 3489L1976.9 3491L1975.3 3493L1974.2 3495L1973.5 3497L1973.4 3499L1973.8 3501L1974.8 3503L1976.2 3505L1978 3507L1980.3 3509L1982.9 3511L1985.7 3513L1988.7 3515L1991.8 3517L1994.9 3519L1997.9 3521L2000.7 3523L2003.3 3525L2005.6 3527L2007.4 3529L2008.8 3531L2009.8 3533L2010.2 3535L2010.1 3537L2009.4 3539L2008.3 3541L2006.7 3543L2004.7 3545L2002.3 3547L1999.6 3549L1996.7 3551L1993.7 3553L1990.6 3555L1987.5 3557L1984.5 3559L1981.8 3561L1979.4 3563L1977.2 3565L1975.6 3567L1974.3 3569L1973.6 3571L1973.4 3572.8L1973.8 3584M1472.1 3262.8L1474.9 3264.8L1477.4 3266.8L1479.6 3268.8L1481.4 3270.8L1482.7 3272.8L1483.5 3274.8L1483.7 3276.8L1483.4 3278.8L1482.6 3280.8L1481.3 3282.8L1479.5 3284.8L1477.3 3286.8L1474.7 3288.8L1471.9 3290.8L1468.9 3292.8L1465.7 3294.8L1462.6 3296.8L1459.6 3298.8L1456.7 3300.8L1454.1 3302.8L1451.8 3304.8L1450 3306.8L1448.6 3308.8L1447.7 3310.8L1447.3 3312.8L1447.5 3314.8L1448.2 3316.8L1449.4 3318.8L1451.1 3320.8L1453.2 3322.8L1455.7 3324.8L1458.5 3326.8L1461.5 3328.8L1464.6 3330.8L1467.7 3332.8L1470.8 3334.8L1473.7 3336.8L1476.3 3338.8L1478.7 3340.8L1480.6 3342.8L1482.1 3344.8L1483.2 3346.8L1483.7 3348.8L1483.6 3350.8L1483 3352.8L1481.9 3354.8L1480.3 3356.8L1478.3 3358.8L1475.9 3360.8L1473.2 3362.8L1470.2 3364.8L1467.1 3366.8L1464 3368.8L1460.9 3370.8L1458 3372.8L1455.2 3374.8L1452.8 3376.8L1450.8 3378.8L1449.1 3380.8L1448 3382.8L1447.4 3384.8L1447.3 3386L1447.3 3400" fill="none" stroke="#000" stroke-width="3.2" stroke-linejoin="round"/>
<path d="M713.3 3692L700.5 3666.5L713.3 3676.5L727.5 3666.5ZM1973.8 3595.5L1960.5 3572L1973.8 3581.5L1987.3 3572ZM1447.3 3412.5L1434.5 3388L1447.3 3397.5L1460 3388Z" fill="#000" stroke="#000" stroke-width="1" stroke-linejoin="round"/>
<g fill="none" stroke="#111" stroke-width="8.2" stroke-dasharray="27.7 9.5">
<path d="M960 3382.2Q1100.5 3325.5 1241 3391.4" stroke-dashoffset="11"/>
<path d="M934.6 3499Q1071.3 3566 1208 3492.6" stroke-dashoffset="8"/>
<path d="M1522 3387.8Q1659 3333.3 1796 3362.7" stroke-dashoffset="10"/>
<path d="M1832 3446.2Q1694 3536.7 1556 3477.7" stroke-dashoffset="14"/>
</g>
<g fill="#111">
<path d="M933.1 3400L963 3358.4L961.5 3380L984.2 3399.6Z"/>
<path d="M1239.2 3465.4L1190 3478.9L1209 3490.5L1221 3511.7Z"/>
<path d="M1832 3367L1796.6 3336.8L1799 3362.5L1784.5 3379.4Z"/>
<path d="M1520.8 3469L1571.2 3471.7L1556.5 3482L1547.5 3510Z"/>
</g>
<rect x="701.8" y="3694" width="23.2" height="412" fill="url(#gr)"/>
<path d="M686.5 4103.3H740.3L713.4 4160.3Z" fill="url(#grh)"/>
<rect x="1915.4" y="3604" width="24" height="490" fill="url(#gg)"/>
<rect x="1915.4" y="3604" width="24" height="12.5" fill="#93b3a2"/>
<rect x="1917" y="3610.5" width="21" height="3" fill="#4a7a5c"/>
<path d="M1900.5 4091.5H1955.4L1927.8 4150.6Z" fill="url(#ggh)"/>
<rect x="1310.7" y="3309" width="22.9" height="899" fill="url(#gp)"/>
<path d="M1294.9 3312.2H1349.5L1322.2 3254Z" fill="url(#gph)"/>
</g>
<g font-family="'Liberation Sans', sans-serif" fill="#000">
<text transform="matrix(0.5158 0 0 0.5099 395.44 4232.69)" font-size="100">0</text>
<text transform="matrix(0.5155 0 0 0.5406 294.94 4085.84)" font-size="100">5,000</text>
<text transform="matrix(0.5056 0 0 0.5406 269.31 3936.84)" font-size="100">10,000</text>
<text transform="matrix(0.5056 0 0 0.5406 269.31 3787.84)" font-size="100">15,000</text>
<text transform="matrix(0.5135 0 0 0.5406 266.93 3638.84)" font-size="100">20,000</text>
<text transform="matrix(0.5135 0 0 0.5406 266.93 3489.84)" font-size="100">25,000</text>
<text transform="matrix(0.5117 0 0 0.5406 267.45 3340.84)" font-size="100">30,000</text>
<text transform="matrix(0.5117 0 0 0.5406 267.45 3191.84)" font-size="100">35,000</text>
<text transform="matrix(0 -0.6314 0.6473 0 235.43 3867.82)" font-size="100">Wavenumber (cm</text>
<text transform="matrix(0 -0.4227 0.4533 0 205.37 3374.81)" font-size="100">−</text>
<text transform="matrix(0 -0.3093 0.4584 0 205.4 3349.12)" font-size="100">1</text>
<text transform="matrix(0 -0.6923 0.6473 0 235.43 3323.99)" font-size="100">)</text>
<text transform="matrix(0.9627 0 0 0.972 129.52 3111.27)" font-size="100">(c)</text>
<text transform="matrix(0.3242 0 0 0.3496 553.9 3335.55)" font-size="100" stroke="#000" stroke-width="1.2" vector-effect="non-scaling-stroke" stroke-linejoin="round">5</text><text transform="matrix(0.3534 0 0 0.5066 577 3352.1)" font-size="100" font-weight="bold" stroke="#000" stroke-width="1.8" vector-effect="non-scaling-stroke" stroke-linejoin="round">L</text><text transform="matrix(0.353 0 0 0.3423 599.95 3364.86)" font-size="100" stroke="#000" stroke-width="1.2" vector-effect="non-scaling-stroke" stroke-linejoin="round">10</text>
<text transform="matrix(0.3242 0 0 0.3496 553.9 3444.95)" font-size="100" stroke="#000" stroke-width="1.2" vector-effect="non-scaling-stroke" stroke-linejoin="round">5</text><text transform="matrix(0.3534 0 0 0.5066 577 3461.5)" font-size="100" font-weight="bold" stroke="#000" stroke-width="1.8" vector-effect="non-scaling-stroke" stroke-linejoin="round">L</text><text transform="matrix(0.3543 0 0 0.3423 600.83 3474.26)" font-size="100" stroke="#000" stroke-width="1.2" vector-effect="non-scaling-stroke" stroke-linejoin="round">6</text>
<text transform="matrix(0.3242 0 0 0.3496 553.9 3495.95)" font-size="100" stroke="#000" stroke-width="1.2" vector-effect="non-scaling-stroke" stroke-linejoin="round">5</text><text transform="matrix(0.4439 0 0 0.5066 576.41 3512.5)" font-size="100" font-weight="bold" stroke="#000" stroke-width="1.8" vector-effect="non-scaling-stroke" stroke-linejoin="round">D</text><text transform="matrix(0.3468 0 0 0.3423 611.21 3525.26)" font-size="100" stroke="#000" stroke-width="1.2" vector-effect="non-scaling-stroke" stroke-linejoin="round">3</text>
<text transform="matrix(0.3242 0 0 0.3496 553.9 3557.25)" font-size="100" stroke="#000" stroke-width="1.2" vector-effect="non-scaling-stroke" stroke-linejoin="round">5</text><text transform="matrix(0.4439 0 0 0.5066 576.41 3573.8)" font-size="100" font-weight="bold" stroke="#000" stroke-width="1.8" vector-effect="non-scaling-stroke" stroke-linejoin="round">D</text><text transform="matrix(0.3582 0 0 0.3471 610.81 3586.9)" font-size="100" stroke="#000" stroke-width="1.2" vector-effect="non-scaling-stroke" stroke-linejoin="round">2</text>
<text transform="matrix(0.3242 0 0 0.3496 553.9 3620.85)" font-size="100" stroke="#000" stroke-width="1.2" vector-effect="non-scaling-stroke" stroke-linejoin="round">5</text><text transform="matrix(0.4439 0 0 0.5066 576.41 3637.4)" font-size="100" font-weight="bold" stroke="#000" stroke-width="1.8" vector-effect="non-scaling-stroke" stroke-linejoin="round">D</text><text transform="matrix(0.3116 0 0 0.3547 612.76 3650.5)" font-size="100" stroke="#000" stroke-width="1.2" vector-effect="non-scaling-stroke" stroke-linejoin="round">1</text>
<text transform="matrix(0.3242 0 0 0.3496 553.9 3681.05)" font-size="100" stroke="#000" stroke-width="1.2" vector-effect="non-scaling-stroke" stroke-linejoin="round">5</text><text transform="matrix(0.4439 0 0 0.5066 576.41 3697.6)" font-size="100" font-weight="bold" stroke="#000" stroke-width="1.8" vector-effect="non-scaling-stroke" stroke-linejoin="round">D</text><text transform="matrix(0.3432 0 0 0.3423 611.23 3710.36)" font-size="100" stroke="#000" stroke-width="1.2" vector-effect="non-scaling-stroke" stroke-linejoin="round">0</text>
<text transform="matrix(0.3242 0 0 0.3496 2117 3149.65)" font-size="100" stroke="#000" stroke-width="1.2" vector-effect="non-scaling-stroke" stroke-linejoin="round">5</text><text transform="matrix(0.4176 0 0 0.5066 2137.69 3166.2)" font-size="100" font-weight="bold" stroke="#000" stroke-width="1.8" vector-effect="non-scaling-stroke" stroke-linejoin="round">F</text><text transform="matrix(0.3432 0 0 0.3496 2163.83 3178.95)" font-size="100" stroke="#000" stroke-width="1.2" vector-effect="non-scaling-stroke" stroke-linejoin="round">5</text>
<text transform="matrix(0.3242 0 0 0.3496 2117 3199.55)" font-size="100" stroke="#000" stroke-width="1.2" vector-effect="non-scaling-stroke" stroke-linejoin="round">5</text><text transform="matrix(0.4763 0 0 0.5066 2139.3 3216.1)" font-size="100" font-weight="bold" stroke="#000" stroke-width="1.8" vector-effect="non-scaling-stroke" stroke-linejoin="round">H</text><text transform="matrix(0.3432 0 0 0.3496 2175.13 3228.85)" font-size="100" stroke="#000" stroke-width="1.2" vector-effect="non-scaling-stroke" stroke-linejoin="round">5</text>
<text transform="matrix(0.3242 0 0 0.3496 2117 3239.85)" font-size="100" stroke="#000" stroke-width="1.2" vector-effect="non-scaling-stroke" stroke-linejoin="round">5</text><text transform="matrix(0.4763 0 0 0.5066 2139.3 3256.4)" font-size="100" font-weight="bold" stroke="#000" stroke-width="1.8" vector-effect="non-scaling-stroke" stroke-linejoin="round">H</text><text transform="matrix(0.3543 0 0 0.3423 2174.73 3269.16)" font-size="100" stroke="#000" stroke-width="1.2" vector-effect="non-scaling-stroke" stroke-linejoin="round">6</text>
<text transform="matrix(0.3242 0 0 0.3496 2117 3282.85)" font-size="100" stroke="#000" stroke-width="1.2" vector-effect="non-scaling-stroke" stroke-linejoin="round">5</text><text transform="matrix(0.4763 0 0 0.5066 2139.3 3299.4)" font-size="100" font-weight="bold" stroke="#000" stroke-width="1.8" vector-effect="non-scaling-stroke" stroke-linejoin="round">H</text><text transform="matrix(0.3582 0 0 0.3547 2174.71 3312.5)" font-size="100" stroke="#000" stroke-width="1.2" vector-effect="non-scaling-stroke" stroke-linejoin="round">7</text>
<text transform="matrix(0.3242 0 0 0.3496 2117 3323.45)" font-size="100" stroke="#000" stroke-width="1.2" vector-effect="non-scaling-stroke" stroke-linejoin="round">5</text><text transform="matrix(0.3359 0 0 0.5066 2140.22 3340)" font-size="100" font-weight="bold" stroke="#000" stroke-width="1.8" vector-effect="non-scaling-stroke" stroke-linejoin="round">L</text><text transform="matrix(0.3543 0 0 0.3423 2161.43 3352.76)" font-size="100" stroke="#000" stroke-width="1.2" vector-effect="non-scaling-stroke" stroke-linejoin="round">6</text>
<text transform="matrix(0.3242 0 0 0.3496 2117 3422.05)" font-size="100" stroke="#000" stroke-width="1.2" vector-effect="non-scaling-stroke" stroke-linejoin="round">5</text><text transform="matrix(0.4563 0 0 0.5141 2138.57 3438.09)" font-size="100" font-weight="bold" stroke="#000" stroke-width="1.8" vector-effect="non-scaling-stroke" stroke-linejoin="round">G</text><text transform="matrix(0.3543 0 0 0.3423 2174.93 3451.36)" font-size="100" stroke="#000" stroke-width="1.2" vector-effect="non-scaling-stroke" stroke-linejoin="round">6</text>
<text transform="matrix(0.3242 0 0 0.3496 2117 3470.05)" font-size="100" stroke="#000" stroke-width="1.2" vector-effect="non-scaling-stroke" stroke-linejoin="round">5</text><text transform="matrix(0.4813 0 0 0.5066 2138.47 3486.6)" font-size="100" font-weight="bold" stroke="#000" stroke-width="1.8" vector-effect="non-scaling-stroke" stroke-linejoin="round">D</text><text transform="matrix(0.3468 0 0 0.3423 2175.31 3499.36)" font-size="100" stroke="#000" stroke-width="1.2" vector-effect="non-scaling-stroke" stroke-linejoin="round">3</text>
<text transform="matrix(0.3242 0 0 0.3496 2117 3598.45)" font-size="100" stroke="#000" stroke-width="1.2" vector-effect="non-scaling-stroke" stroke-linejoin="round">5</text><text transform="matrix(0.4813 0 0 0.5066 2138.47 3615)" font-size="100" font-weight="bold" stroke="#000" stroke-width="1.8" vector-effect="non-scaling-stroke" stroke-linejoin="round">D</text><text transform="matrix(0.326 0 0 0.3547 2175.88 3628.1)" font-size="100" stroke="#000" stroke-width="1.2" vector-effect="non-scaling-stroke" stroke-linejoin="round">4</text>
<circle cx="594.8" cy="3368" r="2.6"/><circle cx="594.8" cy="3382" r="2.6"/><circle cx="594.8" cy="3396" r="2.6"/><circle cx="594.8" cy="3410" r="2.6"/><circle cx="2144" cy="3351" r="2.4"/><circle cx="2144" cy="3362.5" r="2.4"/><circle cx="2144" cy="3374" r="2.4"/><circle cx="2144" cy="3385.5" r="2.4"/><circle cx="2144" cy="3397" r="2.4"/>
<text transform="matrix(0.3441 0 0 0.3518 498.45 4142.6)" font-size="100" font-weight="bold">7</text><text transform="matrix(0.3804 0 0 0.5007 521.43 4159.7)" font-size="100" font-weight="bold" stroke="#000" stroke-width="1.8" vector-effect="non-scaling-stroke" stroke-linejoin="round">F</text><text transform="matrix(0.1768 0 0 0.341 545.13 4173.16)" font-size="100" font-weight="bold" stroke="#000" stroke-width="2.4" vector-effect="non-scaling-stroke" stroke-linejoin="round">J</text>
<text transform="matrix(0.372 0 0 0.3358 2212.63 4129.9)" font-size="100" font-weight="bold">7</text><text transform="matrix(0.4157 0 0 0.5343 2233.7 4148.2)" font-size="100" font-weight="bold" stroke="#000" stroke-width="1.8" vector-effect="non-scaling-stroke" stroke-linejoin="round">F</text><text transform="matrix(0.1642 0 0 0.3237 2257.75 4159.08)" font-size="100" font-weight="bold" stroke="#000" stroke-width="2.4" vector-effect="non-scaling-stroke" stroke-linejoin="round">J</text>
<text transform="matrix(0.3299 0 0 0.3113 605.25 4102.19)" font-size="100" font-weight="bold">6</text>
<text transform="matrix(0.32 0 0 0.3165 625.54 4116.18)" font-size="100" font-weight="bold">5</text>
<text transform="matrix(0.2991 0 0 0.3226 605.95 4136.6)" font-size="100" font-weight="bold">4</text>
<text transform="matrix(0.3232 0 0 0.3099 625.69 4152.29)" font-size="100" font-weight="bold">3</text>
<text transform="matrix(0.3333 0 0 0.3157 605.23 4172.7)" font-size="100" font-weight="bold">2</text>
<text transform="matrix(0.2581 0 0 0.292 628.82 4196.7)" font-size="100" font-weight="bold">1</text>
<text transform="matrix(0.3368 0 0 0.3169 605.05 4215.68)" font-size="100" font-weight="bold">0</text>
<text transform="matrix(0.3621 0 0 0.2972 2118.95 4066.3)" font-size="100" font-weight="bold">0</text>
<text transform="matrix(0.286 0 0 0.308 2143.54 4089.6)" font-size="100" font-weight="bold">1</text>
<text transform="matrix(0.3583 0 0 0.3114 2119.15 4105.7)" font-size="100" font-weight="bold">2</text>
<text transform="matrix(0.3091 0 0 0.2859 2142.63 4126.91)" font-size="100" font-weight="bold">3</text>
<text transform="matrix(0.3215 0 0 0.3197 2119.92 4144.1)" font-size="100" font-weight="bold">4</text>
<text transform="matrix(0.306 0 0 0.3209 2142.48 4161.48)" font-size="100" font-weight="bold">5</text>
<text transform="matrix(0.3546 0 0 0.3028 2119.16 4214.4)" font-size="100" font-weight="bold">6</text>
<text transform="matrix(0.6306 0 0 0.705 746.7 4325.29)" font-size="100" font-weight="bold">Eu</text>
<text transform="matrix(0.467 0 0 0.4507 827.83 4300.55)" font-size="100" font-weight="bold">3+</text>
<text transform="matrix(0.6464 0 0 0.7198 1257.5 4324.88)" font-size="100" font-weight="bold">Ligand</text>
<text transform="matrix(0.6556 0 0 0.6884 1922.14 4327.51)" font-size="100" font-weight="bold">Tb</text>
<text transform="matrix(0.4633 0 0 0.4577 2004.14 4302.04)" font-size="100" font-weight="bold">3+</text>
<text transform="matrix(0.37 0 0 0.5915 1529.09 4212.31)" font-size="100" font-weight="bold" stroke="#000" stroke-width="1.8" vector-effect="non-scaling-stroke" stroke-linejoin="round">S</text>
<text transform="matrix(0.4042 0 0 0.3887 1558.08 4225.91)" font-size="100" font-weight="bold" stroke="#000" stroke-width="0.8" vector-effect="non-scaling-stroke" stroke-linejoin="round">0</text>
<text transform="matrix(0.3967 0 0 0.5732 1356.51 3272.13)" font-size="100" font-weight="bold" fill="#fff" stroke="#fff" stroke-width="1.8" vector-effect="non-scaling-stroke" stroke-linejoin="round">S</text>
<text transform="matrix(0.3527 0 0 0.346 1389.21 3285.8)" font-size="100" font-weight="bold" fill="#fff">1</text>
<text transform="matrix(0.5169 0 0 0.6044 1356.18 3442)" font-size="100" font-weight="bold" fill="#fff" stroke="#fff" stroke-width="1.2" vector-effect="non-scaling-stroke" stroke-linejoin="round">T</text>
<text transform="matrix(0.3355 0 0 0.3723 1390.82 3455.4)" font-size="100" font-weight="bold" fill="#fff">1</text>
</g>
<g fill="none" stroke="#222" stroke-width="2.6">
<path d="M604.4 4073.5H592Q580 4073.5 580 4085V4137Q580 4145.8 571 4145.8H558.5H571Q580 4145.8 580 4154.5V4205Q580 4216.8 592 4216.8H604.4"/>
<path d="M2167.5 4056H2178Q2188.3 4056 2188.3 4067V4126.5Q2188.3 4134.9 2197 4134.9H2207H2197Q2188.3 4134.9 2188.3 4143.5V4201Q2188.3 4211.6 2178 4211.6H2167.5"/>
</g>
<text transform="matrix(0 -0.7482 0.7504 0 679.75 3924.67)" font-size="100" font-family="'Liberation Serif', serif" font-weight="bold" fill="#ff0000">red</text>
<text transform="matrix(0 -0.778 0.806 0 1286.09 3926.55)" font-size="100" font-family="'Liberation Serif', serif" font-weight="bold" fill="#8a40c0">UV</text>
<text transform="matrix(0 -0.7571 0.763 0 1894.51 3961.09)" font-size="100" font-family="'Liberation Serif', serif" font-weight="bold" fill="#00b050">green</text>
<text transform="matrix(0.7051 0 0 0.5985 995.36 3324.8)" font-size="100" font-family="'Liberation Serif', serif" font-weight="bold" font-style="italic">W</text><text transform="matrix(0.3509 0 0 0.4183 1059.37 3300.2)" font-size="100" font-family="'Liberation Serif', serif" font-weight="bold" font-style="italic">T</text><text transform="matrix(0.7176 0 0 0.6167 1086.37 3325.55)" font-size="100" font-family="'Liberation Serif', serif">(</text><text transform="matrix(0.5958 0 0 0.6105 1113.6 3325.59)" font-size="100" font-family="'Liberation Serif', serif" font-weight="bold" font-style="italic">Eu</text><text transform="matrix(0.7 0 0 0.6167 1186 3325.55)" font-size="100" font-family="'Liberation Serif', serif">)</text>
<text transform="matrix(0.7291 0 0 0.5985 980.6 3602)" font-size="100" font-family="'Liberation Serif', serif" font-weight="bold" font-style="italic">W</text><text transform="matrix(0.3842 0 0 0.4168 1043.02 3577.3)" font-size="100" font-family="'Liberation Serif', serif" font-weight="bold" font-style="italic">T</text><text transform="matrix(0.4835 0 0 0.3872 1043.27 3620.71)" font-size="100" font-family="'Liberation Serif', serif" font-weight="bold" font-style="italic">b</text><text transform="matrix(0.6745 0 0 0.6367 1073.06 3604.13)" font-size="100" font-family="'Liberation Serif', serif">(</text><text transform="matrix(0.61 0 0 0.6105 1099.11 3602.79)" font-size="100" font-family="'Liberation Serif', serif" font-weight="bold" font-style="italic">Eu</text><text transform="matrix(0.7038 0 0 0.6367 1173.19 3604.13)" font-size="100" font-family="'Liberation Serif', serif">)</text>
<text transform="matrix(0.6491 0 0 0.5881 1597.66 3318.72)" font-size="100" font-family="'Liberation Serif', serif" font-weight="bold" font-style="italic">W</text><text transform="matrix(0.386 0 0 0.4565 1656.61 3298.5)" font-size="100" font-family="'Liberation Serif', serif" font-weight="bold" font-style="italic">T</text><text transform="matrix(0.7882 0 0 0.62 1686.15 3320.08)" font-size="100" font-family="'Liberation Serif', serif">(</text><text transform="matrix(0.6716 0 0 0.5929 1710.16 3319.61)" font-size="100" font-family="'Liberation Serif', serif" font-weight="bold" font-style="italic">Tb</text><text transform="matrix(0.7038 0 0 0.62 1784.19 3320.08)" font-size="100" font-family="'Liberation Serif', serif">)</text>
<text transform="matrix(0.7086 0 0 0.5881 1557.14 3578.42)" font-size="100" font-family="'Liberation Serif', serif" font-weight="bold" font-style="italic">W</text><text transform="matrix(0.4158 0 0 0.4458 1615.48 3555.6)" font-size="100" font-family="'Liberation Serif', serif" font-weight="bold" font-style="italic">T</text><text transform="matrix(0.4813 0 0 0.3887 1617.88 3595.31)" font-size="100" font-family="'Liberation Serif', serif" font-weight="bold" font-style="italic">b</text><text transform="matrix(0.7137 0 0 0.6289 1648.19 3580.69)" font-size="100" font-family="'Liberation Serif', serif">(</text><text transform="matrix(0.6716 0 0 0.5901 1670.06 3579.41)" font-size="100" font-family="'Liberation Serif', serif" font-weight="bold" font-style="italic">Tb</text><text transform="matrix(0.7038 0 0 0.6289 1744.09 3580.69)" font-size="100" font-family="'Liberation Serif', serif">)</text>
<text transform="matrix(1 0 0 0.9134 945.2 3097.23)" font-size="100" font-family="'Liberation Serif', serif" font-weight="bold" font-style="italic">W</text><text transform="matrix(0.6526 0 0 0.6672 1037.01 3059.2)" font-size="100" font-family="'Liberation Serif', serif" font-weight="bold" font-style="italic">T</text><text transform="matrix(0.7209 0 0 0.5901 1040.82 3122.11)" font-size="100" font-family="'Liberation Serif', serif" font-weight="bold" font-style="italic">b</text><text transform="matrix(1.0314 0 0 0.9478 1089.76 3098.4)" font-size="100" font-family="'Liberation Serif', serif">(</text><text transform="matrix(0.9515 0 0 0.9323 1129.98 3098.47)" font-size="100" font-family="'Liberation Serif', serif" font-weight="bold" font-style="italic">Eu</text><text transform="matrix(1.0962 0 0 0.9478 1244.31 3098.4)" font-size="100" font-family="'Liberation Serif', serif">)</text>
<text transform="matrix(0.7644 0 0 1.0189 1306.88 3101.42)" font-size="100" font-family="'DejaVu Math TeX Gyre', 'DejaVu Sans', serif">≪</text>
<text transform="matrix(1 0 0 0.9134 1414.6 3097.23)" font-size="100" font-family="'Liberation Serif', serif" font-weight="bold" font-style="italic">W</text><text transform="matrix(0.6526 0 0 0.6672 1506.41 3059.2)" font-size="100" font-family="'Liberation Serif', serif" font-weight="bold" font-style="italic">T</text><text transform="matrix(0.7209 0 0 0.5901 1510.22 3122.11)" font-size="100" font-family="'Liberation Serif', serif" font-weight="bold" font-style="italic">b</text><text transform="matrix(1.1137 0 0 0.9478 1556.59 3098.4)" font-size="100" font-family="'Liberation Serif', serif">(</text><text transform="matrix(1.0458 0 0 0.9106 1590.96 3098.49)" font-size="100" font-family="'Liberation Serif', serif" font-weight="bold" font-style="italic">Tb</text><text transform="matrix(1.0962 0 0 0.9478 1707.11 3098.4)" font-size="100" font-family="'Liberation Serif', serif">)</text>
</svg>
</body></html>
